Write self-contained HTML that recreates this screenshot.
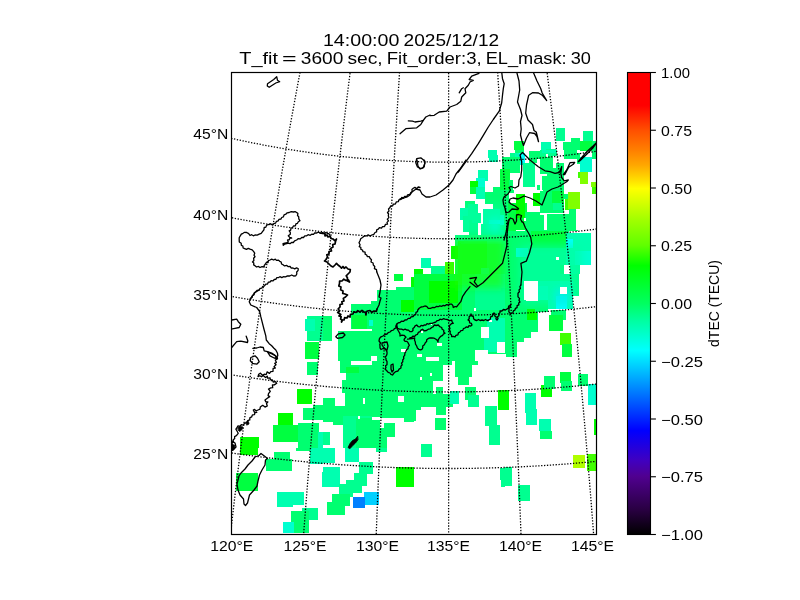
<!DOCTYPE html>
<html><head><meta charset="utf-8"><style>html,body{margin:0;padding:0;background:#fff;width:800px;height:600px;overflow:hidden}svg{display:block;will-change:transform}text{font-family:"Liberation Sans",sans-serif}</style></head>
<body><svg width="800" height="600" viewBox="0 0 800 600">
<defs><linearGradient id="cb" x1="0" y1="0" x2="0" y2="1"><stop offset="0" stop-color="#ff0000"/><stop offset="0.071" stop-color="#ff0000"/><stop offset="0.1255" stop-color="#ff5000"/><stop offset="0.169" stop-color="#ff8000"/><stop offset="0.201" stop-color="#ffa800"/><stop offset="0.234" stop-color="#ffe000"/><stop offset="0.251" stop-color="#ffff00"/><stop offset="0.32" stop-color="#a0ff00"/><stop offset="0.374" stop-color="#60ff00"/><stop offset="0.418" stop-color="#00ff00"/><stop offset="0.5" stop-color="#00ff60"/><stop offset="0.537" stop-color="#00ffa0"/><stop offset="0.602" stop-color="#00ffff"/><stop offset="0.656" stop-color="#00b0ff"/><stop offset="0.721" stop-color="#0050ff"/><stop offset="0.775" stop-color="#0000ff"/><stop offset="0.84" stop-color="#4000c0"/><stop offset="0.874" stop-color="#500090"/><stop offset="0.948" stop-color="#280040"/><stop offset="1" stop-color="#000000"/></linearGradient>
<mask id="dm" maskUnits="userSpaceOnUse" x="0" y="0" width="800" height="600"><g shape-rendering="crispEdges"><rect x="556.4" y="128.3" width="8.7" height="12.3" fill="#fff"/>
<rect x="583.3" y="131.2" width="9.4" height="10.9" fill="#fff"/>
<rect x="563.0" y="142.0" width="17.4" height="15.9" fill="#fff"/>
<rect x="570.9" y="138.4" width="9.4" height="9.4" fill="#fff"/>
<rect x="580.4" y="140.6" width="11.6" height="10.1" fill="#fff"/>
<rect x="592.0" y="140.6" width="4.1" height="18.8" fill="#fff"/>
<rect x="541.2" y="142.0" width="10.1" height="10.1" fill="#fff"/>
<rect x="545.6" y="149.3" width="10.1" height="11.6" fill="#fff"/>
<rect x="552.8" y="158.0" width="10.1" height="10.1" fill="#fff"/>
<rect x="556.4" y="162.3" width="8.0" height="10.1" fill="#fff"/>
<rect x="513.7" y="141.3" width="10.1" height="10.1" fill="#fff"/>
<rect x="528.9" y="150.7" width="10.1" height="10.1" fill="#fff"/>
<rect x="537.6" y="153.6" width="9.4" height="10.1" fill="#fff"/>
<rect x="510.8" y="152.9" width="8.7" height="10.9" fill="#fff"/>
<rect x="518.8" y="152.9" width="6.5" height="10.9" fill="#fff"/>
<rect x="505.0" y="158.0" width="8.7" height="23.2" fill="#fff"/>
<rect x="510.8" y="163.8" width="11.6" height="23.2" fill="#fff"/>
<rect x="523.8" y="160.9" width="15.9" height="26.1" fill="#fff"/>
<rect x="539.8" y="163.8" width="13.0" height="23.2" fill="#fff"/>
<rect x="554.3" y="162.3" width="11.6" height="24.6" fill="#fff"/>
<rect x="578.9" y="156.5" width="13.0" height="15.9" fill="#fff"/>
<rect x="578.2" y="171.7" width="10.1" height="12.3" fill="#fff"/>
<rect x="591.2" y="181.9" width="4.8" height="5.1" fill="#fff"/>
<rect x="487.9" y="150.0" width="9.4" height="8.0" fill="#fff"/>
<rect x="489.4" y="155.1" width="8.7" height="7.2" fill="#fff"/>
<rect x="477.8" y="169.6" width="10.1" height="11.6" fill="#fff"/>
<rect x="475.6" y="178.3" width="9.4" height="8.7" fill="#fff"/>
<rect x="469.8" y="181.2" width="8.0" height="5.8" fill="#fff"/>
<rect x="500.2" y="157.2" width="4.8" height="29.7" fill="#fff"/>
<rect x="469.8" y="187.0" width="8.0" height="6.5" fill="#fff"/>
<rect x="476.3" y="187.0" width="8.7" height="12.3" fill="#fff"/>
<rect x="485.0" y="192.1" width="8.7" height="12.3" fill="#fff"/>
<rect x="493.0" y="187.0" width="12.0" height="24.6" fill="#fff"/>
<rect x="464.7" y="200.8" width="10.1" height="9.4" fill="#fff"/>
<rect x="460.4" y="208.0" width="8.7" height="12.3" fill="#fff"/>
<rect x="468.3" y="204.4" width="9.4" height="11.6" fill="#fff"/>
<rect x="463.3" y="216.0" width="8.7" height="15.9" fill="#fff"/>
<rect x="469.1" y="220.3" width="8.7" height="15.2" fill="#fff"/>
<rect x="472.0" y="213.1" width="8.7" height="10.1" fill="#fff"/>
<rect x="482.8" y="208.7" width="22.2" height="27.5" fill="#fff"/>
<rect x="489.4" y="220.3" width="10.1" height="11.6" fill="#fff"/>
<rect x="480.7" y="224.0" width="24.3" height="15.2" fill="#fff"/>
<rect x="454.6" y="234.8" width="50.4" height="39.1" fill="#fff"/>
<rect x="451.0" y="246.4" width="6.5" height="13.0" fill="#fff"/>
<rect x="454.6" y="234.8" width="9.4" height="10.1" fill="#fff"/>
<rect x="457.5" y="240.6" width="29.0" height="33.3" fill="#fff"/>
<rect x="486.5" y="239.2" width="18.6" height="34.8" fill="#fff"/>
<rect x="480.7" y="268.2" width="8.7" height="5.8" fill="#fff"/>
<rect x="445.2" y="261.6" width="8.7" height="12.3" fill="#fff"/>
<rect x="421.2" y="258.0" width="9.4" height="10.1" fill="#fff"/>
<rect x="414.0" y="268.9" width="8.7" height="5.1" fill="#fff"/>
<rect x="430.7" y="266.0" width="14.5" height="8.0" fill="#fff"/>
<rect x="505.0" y="187.0" width="5.1" height="7.2" fill="#fff"/>
<rect x="538.3" y="187.0" width="23.2" height="7.2" fill="#fff"/>
<rect x="515.9" y="194.2" width="10.9" height="21.7" fill="#fff"/>
<rect x="532.5" y="192.8" width="11.6" height="13.0" fill="#fff"/>
<rect x="542.7" y="192.8" width="21.7" height="20.3" fill="#fff"/>
<rect x="570.2" y="192.1" width="10.1" height="12.3" fill="#fff"/>
<rect x="567.3" y="198.6" width="8.7" height="10.9" fill="#fff"/>
<rect x="592.0" y="187.0" width="4.1" height="7.2" fill="#fff"/>
<rect x="505.0" y="201.5" width="10.9" height="72.5" fill="#fff"/>
<rect x="525.3" y="213.1" width="52.2" height="17.4" fill="#fff"/>
<rect x="526.0" y="215.3" width="10.1" height="9.4" fill="#fff"/>
<rect x="505.0" y="230.5" width="63.8" height="43.5" fill="#fff"/>
<rect x="515.9" y="247.9" width="12.3" height="8.7" fill="#fff"/>
<rect x="531.1" y="230.5" width="34.8" height="17.4" fill="#fff"/>
<rect x="565.9" y="233.4" width="24.6" height="31.9" fill="#fff"/>
<rect x="565.9" y="239.2" width="7.2" height="8.7" fill="#fff"/>
<rect x="574.6" y="250.8" width="15.9" height="14.5" fill="#fff"/>
<rect x="570.2" y="265.3" width="10.1" height="8.7" fill="#fff"/>
<rect x="560.1" y="265.3" width="10.1" height="8.7" fill="#fff"/>
<rect x="505.0" y="274.0" width="18.8" height="68.1" fill="#fff"/>
<rect x="505.0" y="342.1" width="11.6" height="14.5" fill="#fff"/>
<rect x="522.4" y="274.0" width="56.5" height="7.2" fill="#fff"/>
<rect x="573.1" y="274.0" width="5.8" height="21.7" fill="#fff"/>
<rect x="534.0" y="281.2" width="39.1" height="27.5" fill="#fff"/>
<rect x="538.3" y="285.6" width="10.1" height="14.5" fill="#fff"/>
<rect x="556.4" y="295.7" width="10.9" height="13.0" fill="#fff"/>
<rect x="516.6" y="300.1" width="21.7" height="31.9" fill="#fff"/>
<rect x="523.8" y="332.0" width="7.2" height="5.8" fill="#fff"/>
<rect x="526.7" y="308.8" width="10.1" height="11.6" fill="#fff"/>
<rect x="535.4" y="300.1" width="13.0" height="11.6" fill="#fff"/>
<rect x="551.4" y="310.2" width="14.5" height="10.1" fill="#fff"/>
<rect x="549.2" y="314.6" width="13.8" height="15.9" fill="#fff"/>
<rect x="560.1" y="332.7" width="10.9" height="12.3" fill="#fff"/>
<rect x="561.5" y="343.6" width="10.9" height="13.0" fill="#fff"/>
<rect x="414.0" y="274.0" width="91.0" height="87.0" fill="#fff"/>
<rect x="414.0" y="274.0" width="47.8" height="36.2" fill="#fff"/>
<rect x="428.5" y="281.2" width="29.0" height="21.7" fill="#fff"/>
<rect x="474.9" y="274.0" width="30.1" height="36.2" fill="#fff"/>
<rect x="486.5" y="317.5" width="18.6" height="24.6" fill="#fff"/>
<rect x="483.6" y="337.8" width="14.5" height="14.5" fill="#fff"/>
<rect x="443.0" y="317.5" width="31.9" height="43.5" fill="#fff"/>
<rect x="414.0" y="310.2" width="29.0" height="50.7" fill="#fff"/>
<rect x="394.0" y="274.0" width="9.4" height="6.5" fill="#fff"/>
<rect x="411.4" y="276.9" width="2.6" height="11.6" fill="#fff"/>
<rect x="377.3" y="289.9" width="36.7" height="71.0" fill="#fff"/>
<rect x="395.5" y="287.0" width="18.6" height="2.9" fill="#fff"/>
<rect x="370.8" y="300.8" width="6.5" height="60.1" fill="#fff"/>
<rect x="350.5" y="303.7" width="20.3" height="25.4" fill="#fff"/>
<rect x="338.2" y="330.5" width="32.6" height="30.4" fill="#fff"/>
<rect x="323.0" y="316.0" width="8.7" height="24.6" fill="#fff"/>
<rect x="401.3" y="300.1" width="12.8" height="11.6" fill="#fff"/>
<rect x="369.4" y="320.4" width="3.6" height="5.8" fill="#fff"/>
<rect x="352.0" y="314.6" width="14.5" height="14.5" fill="#fff"/>
<rect x="307.4" y="316.0" width="15.7" height="24.6" fill="#fff"/>
<rect x="304.5" y="318.9" width="10.1" height="11.6" fill="#fff"/>
<rect x="305.2" y="342.1" width="13.8" height="16.7" fill="#fff"/>
<rect x="306.6" y="361.7" width="10.9" height="13.0" fill="#fff"/>
<rect x="297.2" y="388.5" width="15.2" height="15.9" fill="#fff"/>
<rect x="303.0" y="408.1" width="20.0" height="12.3" fill="#fff"/>
<rect x="313.2" y="404.5" width="9.9" height="4.3" fill="#fff"/>
<rect x="277.7" y="413.2" width="15.2" height="13.0" fill="#fff"/>
<rect x="273.3" y="424.8" width="26.8" height="16.7" fill="#fff"/>
<rect x="297.9" y="423.3" width="21.0" height="24.6" fill="#fff"/>
<rect x="317.5" y="432.0" width="5.5" height="15.9" fill="#fff"/>
<rect x="240.0" y="437.1" width="18.8" height="10.9" fill="#fff"/>
<rect x="340.4" y="361.0" width="73.6" height="11.6" fill="#fff"/>
<rect x="346.2" y="366.8" width="13.0" height="10.1" fill="#fff"/>
<rect x="346.2" y="372.6" width="67.8" height="20.3" fill="#fff"/>
<rect x="341.8" y="379.8" width="4.3" height="13.0" fill="#fff"/>
<rect x="344.7" y="392.2" width="69.3" height="25.4" fill="#fff"/>
<rect x="404.2" y="394.3" width="9.9" height="27.5" fill="#fff"/>
<rect x="323.0" y="398.0" width="11.6" height="23.9" fill="#fff"/>
<rect x="333.1" y="405.9" width="11.6" height="18.8" fill="#fff"/>
<rect x="343.3" y="416.1" width="29.0" height="31.9" fill="#fff"/>
<rect x="356.3" y="417.5" width="24.6" height="30.4" fill="#fff"/>
<rect x="381.0" y="423.3" width="13.8" height="13.8" fill="#fff"/>
<rect x="381.0" y="437.1" width="5.8" height="10.9" fill="#fff"/>
<rect x="323.0" y="432.0" width="6.5" height="13.0" fill="#fff"/>
<rect x="414.0" y="361.0" width="18.8" height="33.3" fill="#fff"/>
<rect x="432.8" y="361.0" width="10.1" height="20.3" fill="#fff"/>
<rect x="435.7" y="387.1" width="7.2" height="7.2" fill="#fff"/>
<rect x="438.6" y="361.0" width="13.0" height="4.3" fill="#fff"/>
<rect x="454.6" y="361.0" width="23.2" height="4.3" fill="#fff"/>
<rect x="455.3" y="365.3" width="16.7" height="11.6" fill="#fff"/>
<rect x="457.5" y="376.9" width="11.6" height="8.0" fill="#fff"/>
<rect x="414.0" y="394.3" width="39.1" height="13.0" fill="#fff"/>
<rect x="435.7" y="407.4" width="10.1" height="7.2" fill="#fff"/>
<rect x="414.0" y="407.4" width="7.2" height="2.9" fill="#fff"/>
<rect x="414.0" y="410.3" width="2.2" height="10.9" fill="#fff"/>
<rect x="449.5" y="391.4" width="9.4" height="12.3" fill="#fff"/>
<rect x="464.7" y="387.1" width="11.6" height="13.0" fill="#fff"/>
<rect x="467.6" y="395.1" width="11.6" height="11.6" fill="#fff"/>
<rect x="498.1" y="390.0" width="7.0" height="20.3" fill="#fff"/>
<rect x="485.0" y="405.9" width="11.6" height="19.6" fill="#fff"/>
<rect x="488.6" y="424.8" width="11.6" height="20.3" fill="#fff"/>
<rect x="435.0" y="418.2" width="10.9" height="11.6" fill="#fff"/>
<rect x="421.2" y="444.3" width="10.9" height="3.6" fill="#fff"/>
<rect x="505.0" y="390.0" width="4.3" height="19.6" fill="#fff"/>
<rect x="525.3" y="392.9" width="10.9" height="19.6" fill="#fff"/>
<rect x="526.0" y="408.8" width="10.9" height="15.9" fill="#fff"/>
<rect x="541.2" y="384.9" width="10.9" height="11.6" fill="#fff"/>
<rect x="544.1" y="376.2" width="10.9" height="12.3" fill="#fff"/>
<rect x="560.1" y="371.9" width="10.9" height="10.9" fill="#fff"/>
<rect x="560.8" y="381.3" width="10.9" height="10.1" fill="#fff"/>
<rect x="577.5" y="374.0" width="10.1" height="11.6" fill="#fff"/>
<rect x="588.3" y="384.2" width="7.7" height="20.3" fill="#fff"/>
<rect x="539.1" y="419.0" width="12.3" height="11.6" fill="#fff"/>
<rect x="539.8" y="430.6" width="12.3" height="8.0" fill="#fff"/>
<rect x="594.1" y="419.0" width="1.9" height="15.9" fill="#fff"/>
<rect x="240.0" y="448.0" width="18.1" height="6.5" fill="#fff"/>
<rect x="295.8" y="448.0" width="14.5" height="2.9" fill="#fff"/>
<rect x="310.3" y="448.0" width="12.8" height="15.9" fill="#fff"/>
<rect x="274.0" y="452.3" width="15.9" height="10.1" fill="#fff"/>
<rect x="266.1" y="458.9" width="26.1" height="12.3" fill="#fff"/>
<rect x="235.6" y="472.6" width="22.5" height="18.8" fill="#fff"/>
<rect x="276.9" y="491.5" width="15.9" height="15.9" fill="#fff"/>
<rect x="290.0" y="492.2" width="13.8" height="13.0" fill="#fff"/>
<rect x="301.6" y="508.1" width="15.9" height="12.3" fill="#fff"/>
<rect x="290.7" y="511.0" width="18.1" height="21.7" fill="#fff"/>
<rect x="282.7" y="521.9" width="11.6" height="10.9" fill="#fff"/>
<rect x="321.9" y="471.9" width="1.2" height="15.2" fill="#fff"/>
<rect x="323.0" y="448.0" width="11.6" height="14.5" fill="#fff"/>
<rect x="344.7" y="448.0" width="14.5" height="13.8" fill="#fff"/>
<rect x="375.9" y="448.0" width="10.9" height="3.6" fill="#fff"/>
<rect x="323.0" y="466.8" width="17.4" height="20.3" fill="#fff"/>
<rect x="359.2" y="461.8" width="13.8" height="12.3" fill="#fff"/>
<rect x="354.2" y="473.4" width="12.3" height="12.3" fill="#fff"/>
<rect x="346.2" y="479.9" width="15.9" height="13.0" fill="#fff"/>
<rect x="338.9" y="484.2" width="14.5" height="13.0" fill="#fff"/>
<rect x="331.7" y="494.4" width="18.1" height="11.6" fill="#fff"/>
<rect x="327.3" y="501.6" width="17.4" height="13.0" fill="#fff"/>
<rect x="396.2" y="466.8" width="17.8" height="20.3" fill="#fff"/>
<rect x="363.6" y="492.2" width="15.2" height="12.3" fill="#fff"/>
<rect x="352.7" y="496.6" width="12.3" height="10.9" fill="#fff"/>
<rect x="421.2" y="448.0" width="10.9" height="8.7" fill="#fff"/>
<rect x="500.2" y="467.6" width="4.8" height="12.3" fill="#fff"/>
<rect x="501.0" y="479.2" width="4.1" height="7.7" fill="#fff"/>
<rect x="505.0" y="466.8" width="7.0" height="19.6" fill="#fff"/>
<rect x="518.0" y="485.0" width="11.9" height="15.9" fill="#fff"/>
<rect x="573.1" y="455.0" width="11.6" height="12.6" fill="#fff"/>
<rect x="586.9" y="454.1" width="9.1" height="16.4" fill="#fff"/>
<rect x="544.1" y="214.5" width="2.9" height="15.9" fill="#000"/>
<rect x="564.4" y="265.3" width="5.8" height="8.7" fill="#000"/>
<rect x="555.7" y="257.3" width="3.2" height="2.9" fill="#000"/>
<rect x="526.0" y="197.1" width="6.5" height="15.2" fill="#000"/>
<rect x="526.7" y="187.0" width="11.6" height="5.8" fill="#000"/>
<rect x="526.0" y="280.5" width="11.6" height="20.3" fill="#000"/>
<rect x="560.1" y="287.0" width="7.2" height="7.2" fill="#000"/>
<rect x="481.4" y="326.9" width="8.0" height="10.9" fill="#000"/>
<rect x="474.9" y="350.1" width="13.0" height="10.9" fill="#000"/>
<rect x="497.3" y="342.1" width="7.7" height="10.9" fill="#000"/>
<rect x="426.3" y="357.3" width="13.0" height="3.6" fill="#000"/>
<rect x="416.9" y="353.7" width="5.1" height="2.9" fill="#000"/>
<rect x="436.5" y="342.8" width="5.1" height="2.9" fill="#000"/>
<rect x="474.1" y="308.1" width="2.2" height="2.9" fill="#000"/>
<rect x="489.4" y="319.7" width="2.9" height="2.2" fill="#000"/>
<rect x="421.2" y="331.2" width="1.7" height="2.2" fill="#000"/>
<rect x="430.7" y="324.0" width="1.4" height="1.4" fill="#000"/>
<rect x="370.8" y="355.9" width="6.5" height="5.1" fill="#000"/>
<rect x="401.3" y="349.4" width="5.8" height="2.9" fill="#000"/>
<rect x="359.2" y="329.4" width="13.0" height="2.0" fill="#000"/>
<rect x="351.3" y="361.0" width="20.3" height="3.6" fill="#000"/>
<rect x="362.9" y="398.0" width="2.2" height="5.8" fill="#000"/>
<rect x="372.3" y="416.8" width="8.0" height="2.9" fill="#000"/>
<rect x="380.2" y="418.2" width="3.6" height="9.4" fill="#000"/>
<rect x="357.8" y="416.1" width="2.2" height="2.9" fill="#000"/>
<rect x="398.4" y="395.8" width="5.8" height="5.8" fill="#000"/>
<rect x="394.7" y="417.5" width="9.4" height="4.3" fill="#000"/>
<rect x="419.8" y="376.9" width="2.2" height="2.9" fill="#000"/>
<rect x="429.9" y="373.3" width="2.2" height="2.2" fill="#000"/>
<rect x="500.0" y="150.0" width="80.0" height="80.0" fill="#000"/>
<rect x="486.0" y="354.0" width="20.0" height="8.0" fill="#000"/>
<rect x="515.3" y="150.0" width="8.7" height="2.7" fill="#fff"/>
<rect x="510.0" y="152.7" width="10.0" height="4.7" fill="#fff"/>
<rect x="515.3" y="152.7" width="4.7" height="12.0" fill="#fff"/>
<rect x="519.3" y="153.3" width="5.3" height="11.3" fill="#fff"/>
<rect x="529.0" y="151.0" width="11.0" height="7.7" fill="#fff"/>
<rect x="528.7" y="158.7" width="8.7" height="4.0" fill="#fff"/>
<rect x="502.0" y="157.0" width="18.0" height="15.7" fill="#fff"/>
<rect x="500.0" y="168.7" width="10.0" height="21.3" fill="#fff"/>
<rect x="523.0" y="163.3" width="12.0" height="23.3" fill="#fff"/>
<rect x="508.7" y="180.0" width="4.7" height="10.0" fill="#fff"/>
<rect x="537.0" y="184.7" width="3.0" height="5.3" fill="#fff"/>
<rect x="540.0" y="150.0" width="16.7" height="6.0" fill="#fff"/>
<rect x="542.0" y="150.0" width="14.0" height="3.3" fill="#fff"/>
<rect x="540.0" y="156.0" width="13.0" height="12.0" fill="#fff"/>
<rect x="555.7" y="162.7" width="8.3" height="5.3" fill="#fff"/>
<rect x="546.7" y="168.0" width="17.3" height="4.7" fill="#fff"/>
<rect x="540.0" y="168.0" width="6.7" height="6.0" fill="#fff"/>
<rect x="546.7" y="172.7" width="17.3" height="17.3" fill="#fff"/>
<rect x="542.0" y="176.0" width="4.7" height="14.0" fill="#fff"/>
<rect x="564.0" y="150.0" width="12.7" height="8.7" fill="#fff"/>
<rect x="576.7" y="152.7" width="3.3" height="11.3" fill="#fff"/>
<rect x="578.0" y="172.0" width="2.0" height="6.0" fill="#fff"/>
<rect x="546.0" y="154.0" width="2.0" height="2.7" fill="#000"/>
<rect x="556.7" y="150.0" width="7.3" height="4.0" fill="#000"/>
<rect x="500.0" y="190.0" width="8.7" height="40.0" fill="#fff"/>
<rect x="500.0" y="215.3" width="4.0" height="9.3" fill="#fff"/>
<rect x="508.7" y="190.0" width="5.3" height="3.0" fill="#fff"/>
<rect x="508.0" y="203.3" width="18.7" height="26.7" fill="#fff"/>
<rect x="516.0" y="194.0" width="9.3" height="24.0" fill="#fff"/>
<rect x="525.3" y="212.0" width="14.7" height="18.0" fill="#fff"/>
<rect x="532.7" y="193.3" width="7.3" height="12.7" fill="#fff"/>
<rect x="524.0" y="218.0" width="2.0" height="2.7" fill="#000"/>
<rect x="540.0" y="190.0" width="24.0" height="22.7" fill="#fff"/>
<rect x="552.0" y="191.3" width="12.0" height="12.0" fill="#fff"/>
<rect x="553.3" y="203.3" width="8.7" height="6.7" fill="#fff"/>
<rect x="564.0" y="194.0" width="4.0" height="4.7" fill="#fff"/>
<rect x="565.3" y="198.7" width="4.7" height="11.3" fill="#fff"/>
<rect x="568.0" y="192.0" width="12.0" height="17.3" fill="#fff"/>
<rect x="540.0" y="215.3" width="4.0" height="14.7" fill="#fff"/>
<rect x="546.7" y="214.0" width="29.3" height="16.0" fill="#fff"/>
<rect x="569.3" y="209.3" width="6.7" height="20.7" fill="#fff"/>
<rect x="540.0" y="190.0" width="2.7" height="1.3" fill="#000"/></g></mask>
<filter id="bl" x="-50%" y="-50%" width="200%" height="200%"><feGaussianBlur stdDeviation="4"/></filter>
<clipPath id="ax"><rect x="231.5" y="72.5" width="365.0" height="462.0"/></clipPath></defs>
<rect width="800" height="600" fill="#fff"/>
<g clip-path="url(#ax)">
<g id="data" shape-rendering="crispEdges"><rect x="556.4" y="128.3" width="8.7" height="12.3" fill="#00ff90"/>
<rect x="583.3" y="131.2" width="9.4" height="10.9" fill="#00ff90"/>
<rect x="563.0" y="142.0" width="17.4" height="15.9" fill="#00ff70"/>
<rect x="570.9" y="138.4" width="9.4" height="9.4" fill="#00ff70"/>
<rect x="580.4" y="140.6" width="11.6" height="10.1" fill="#00ff40"/>
<rect x="592.0" y="140.6" width="4.1" height="18.8" fill="#00ff70"/>
<rect x="541.2" y="142.0" width="10.1" height="10.1" fill="#00ffb0"/>
<rect x="545.6" y="149.3" width="10.1" height="11.6" fill="#00ff90"/>
<rect x="552.8" y="158.0" width="10.1" height="10.1" fill="#00ff70"/>
<rect x="556.4" y="162.3" width="8.0" height="10.1" fill="#00ff70"/>
<rect x="513.7" y="141.3" width="10.1" height="10.1" fill="#00ff40"/>
<rect x="528.9" y="150.7" width="10.1" height="10.1" fill="#00ff70"/>
<rect x="537.6" y="153.6" width="9.4" height="10.1" fill="#00ff70"/>
<rect x="510.8" y="152.9" width="8.7" height="10.9" fill="#00ff70"/>
<rect x="518.8" y="152.9" width="6.5" height="10.9" fill="#00ffff"/>
<rect x="505.0" y="158.0" width="8.7" height="23.2" fill="#00ff90"/>
<rect x="510.8" y="163.8" width="11.6" height="23.2" fill="#00ff70"/>
<rect x="523.8" y="160.9" width="15.9" height="26.1" fill="#00ff90"/>
<rect x="539.8" y="163.8" width="13.0" height="23.2" fill="#00ff70"/>
<rect x="554.3" y="162.3" width="11.6" height="24.6" fill="#00ff40"/>
<rect x="578.9" y="156.5" width="13.0" height="15.9" fill="#00ffd0"/>
<rect x="578.2" y="171.7" width="10.1" height="12.3" fill="#80ff00"/>
<rect x="591.2" y="181.9" width="4.8" height="5.1" fill="#80ff00"/>
<rect x="487.9" y="150.0" width="9.4" height="8.0" fill="#00ffb0"/>
<rect x="489.4" y="155.1" width="8.7" height="7.2" fill="#00ffb0"/>
<rect x="477.8" y="169.6" width="10.1" height="11.6" fill="#00ffb0"/>
<rect x="475.6" y="178.3" width="9.4" height="8.7" fill="#00ffd0"/>
<rect x="469.8" y="181.2" width="8.0" height="5.8" fill="#00ff00"/>
<rect x="500.2" y="157.2" width="4.8" height="29.7" fill="#00ff40"/>
<rect x="469.8" y="187.0" width="8.0" height="6.5" fill="#00ff40"/>
<rect x="476.3" y="187.0" width="8.7" height="12.3" fill="#00ffb0"/>
<rect x="485.0" y="192.1" width="8.7" height="12.3" fill="#00ff70"/>
<rect x="493.0" y="187.0" width="12.0" height="24.6" fill="#00ff70"/>
<rect x="464.7" y="200.8" width="10.1" height="9.4" fill="#00ff70"/>
<rect x="460.4" y="208.0" width="8.7" height="12.3" fill="#00ffb0"/>
<rect x="468.3" y="204.4" width="9.4" height="11.6" fill="#00ff90"/>
<rect x="463.3" y="216.0" width="8.7" height="15.9" fill="#00ff90"/>
<rect x="469.1" y="220.3" width="8.7" height="15.2" fill="#00ff70"/>
<rect x="472.0" y="213.1" width="8.7" height="10.1" fill="#00ff90"/>
<rect x="482.8" y="208.7" width="22.2" height="27.5" fill="#00ffb0"/>
<rect x="489.4" y="220.3" width="10.1" height="11.6" fill="#00ffff"/>
<rect x="480.7" y="224.0" width="24.3" height="15.2" fill="#00ff90"/>
<rect x="454.6" y="234.8" width="50.4" height="39.1" fill="#00ff70"/>
<rect x="451.0" y="246.4" width="6.5" height="13.0" fill="#00ff00"/>
<rect x="454.6" y="234.8" width="9.4" height="10.1" fill="#00ff90"/>
<rect x="457.5" y="240.6" width="29.0" height="33.3" fill="#00ff40"/>
<rect x="486.5" y="239.2" width="18.6" height="34.8" fill="#00ff70"/>
<rect x="480.7" y="268.2" width="8.7" height="5.8" fill="#00ffb0"/>
<rect x="445.2" y="261.6" width="8.7" height="12.3" fill="#40ff00"/>
<rect x="421.2" y="258.0" width="9.4" height="10.1" fill="#00ffb0"/>
<rect x="414.0" y="268.9" width="8.7" height="5.1" fill="#00ff00"/>
<rect x="430.7" y="266.0" width="14.5" height="8.0" fill="#00ff90"/>
<rect x="505.0" y="187.0" width="5.1" height="7.2" fill="#00ff70"/>
<rect x="538.3" y="187.0" width="23.2" height="7.2" fill="#00ff70"/>
<rect x="515.9" y="194.2" width="10.9" height="21.7" fill="#00ff70"/>
<rect x="532.5" y="192.8" width="11.6" height="13.0" fill="#00ff70"/>
<rect x="542.7" y="192.8" width="21.7" height="20.3" fill="#00ff70"/>
<rect x="570.2" y="192.1" width="10.1" height="12.3" fill="#80ff00"/>
<rect x="567.3" y="198.6" width="8.7" height="10.9" fill="#40ff00"/>
<rect x="592.0" y="187.0" width="4.1" height="7.2" fill="#40ff00"/>
<rect x="505.0" y="201.5" width="10.9" height="72.5" fill="#00ff40"/>
<rect x="525.3" y="213.1" width="52.2" height="17.4" fill="#00ff70"/>
<rect x="526.0" y="215.3" width="10.1" height="9.4" fill="#00ffb0"/>
<rect x="505.0" y="230.5" width="63.8" height="43.5" fill="#00ff70"/>
<rect x="515.9" y="247.9" width="12.3" height="8.7" fill="#00ffd0"/>
<rect x="531.1" y="230.5" width="34.8" height="17.4" fill="#00ff40"/>
<rect x="565.9" y="233.4" width="24.6" height="31.9" fill="#00ffb0"/>
<rect x="565.9" y="239.2" width="7.2" height="8.7" fill="#00ffff"/>
<rect x="574.6" y="250.8" width="15.9" height="14.5" fill="#00ffd0"/>
<rect x="570.2" y="265.3" width="10.1" height="8.7" fill="#00ff90"/>
<rect x="560.1" y="265.3" width="10.1" height="8.7" fill="#00ff40"/>
<rect x="505.0" y="274.0" width="18.8" height="68.1" fill="#00ff70"/>
<rect x="505.0" y="342.1" width="11.6" height="14.5" fill="#00ff70"/>
<rect x="522.4" y="274.0" width="56.5" height="7.2" fill="#00ff70"/>
<rect x="573.1" y="274.0" width="5.8" height="21.7" fill="#00ff70"/>
<rect x="534.0" y="281.2" width="39.1" height="27.5" fill="#00ffb0"/>
<rect x="538.3" y="285.6" width="10.1" height="14.5" fill="#00ffd0"/>
<rect x="556.4" y="295.7" width="10.9" height="13.0" fill="#00ffff"/>
<rect x="516.6" y="300.1" width="21.7" height="31.9" fill="#00ff70"/>
<rect x="523.8" y="332.0" width="7.2" height="5.8" fill="#00ff70"/>
<rect x="526.7" y="308.8" width="10.1" height="11.6" fill="#00ff00"/>
<rect x="535.4" y="300.1" width="13.0" height="11.6" fill="#00ff70"/>
<rect x="551.4" y="310.2" width="14.5" height="10.1" fill="#00ff70"/>
<rect x="549.2" y="314.6" width="13.8" height="15.9" fill="#00ff40"/>
<rect x="560.1" y="332.7" width="10.9" height="12.3" fill="#40ff00"/>
<rect x="561.5" y="343.6" width="10.9" height="13.0" fill="#00ff40"/>
<rect x="414.0" y="274.0" width="91.0" height="87.0" fill="#00ff70"/>
<rect x="414.0" y="274.0" width="47.8" height="36.2" fill="#00ff40"/>
<rect x="428.5" y="281.2" width="29.0" height="21.7" fill="#00ff00"/>
<rect x="474.9" y="274.0" width="30.1" height="36.2" fill="#00ff90"/>
<rect x="486.5" y="317.5" width="18.6" height="24.6" fill="#00ffb0"/>
<rect x="483.6" y="337.8" width="14.5" height="14.5" fill="#00ffb0"/>
<rect x="443.0" y="317.5" width="31.9" height="43.5" fill="#00ff70"/>
<rect x="414.0" y="310.2" width="29.0" height="50.7" fill="#00ff70"/>
<rect x="394.0" y="274.0" width="9.4" height="6.5" fill="#00ff40"/>
<rect x="411.4" y="276.9" width="2.6" height="11.6" fill="#00ff00"/>
<rect x="377.3" y="289.9" width="36.7" height="71.0" fill="#00ff70"/>
<rect x="395.5" y="287.0" width="18.6" height="2.9" fill="#00ff70"/>
<rect x="370.8" y="300.8" width="6.5" height="60.1" fill="#00ff70"/>
<rect x="350.5" y="303.7" width="20.3" height="25.4" fill="#00ff70"/>
<rect x="338.2" y="330.5" width="32.6" height="30.4" fill="#00ff70"/>
<rect x="323.0" y="316.0" width="8.7" height="24.6" fill="#00ff70"/>
<rect x="401.3" y="300.1" width="12.8" height="11.6" fill="#00ff00"/>
<rect x="369.4" y="320.4" width="3.6" height="5.8" fill="#00ffd0"/>
<rect x="352.0" y="314.6" width="14.5" height="14.5" fill="#00ff40"/>
<rect x="307.4" y="316.0" width="15.7" height="24.6" fill="#00ff90"/>
<rect x="304.5" y="318.9" width="10.1" height="11.6" fill="#00ffb0"/>
<rect x="305.2" y="342.1" width="13.8" height="16.7" fill="#00ff40"/>
<rect x="306.6" y="361.7" width="10.9" height="13.0" fill="#00ff70"/>
<rect x="297.2" y="388.5" width="15.2" height="15.9" fill="#00ff00"/>
<rect x="303.0" y="408.1" width="20.0" height="12.3" fill="#00ff70"/>
<rect x="313.2" y="404.5" width="9.9" height="4.3" fill="#00ff70"/>
<rect x="277.7" y="413.2" width="15.2" height="13.0" fill="#00ff00"/>
<rect x="273.3" y="424.8" width="26.8" height="16.7" fill="#00ff40"/>
<rect x="297.9" y="423.3" width="21.0" height="24.6" fill="#00ff70"/>
<rect x="317.5" y="432.0" width="5.5" height="15.9" fill="#00ffb0"/>
<rect x="240.0" y="437.1" width="18.8" height="10.9" fill="#00ff00"/>
<rect x="340.4" y="361.0" width="73.6" height="11.6" fill="#00ff70"/>
<rect x="346.2" y="366.8" width="13.0" height="10.1" fill="#00ff40"/>
<rect x="346.2" y="372.6" width="67.8" height="20.3" fill="#00ff70"/>
<rect x="341.8" y="379.8" width="4.3" height="13.0" fill="#00ff70"/>
<rect x="344.7" y="392.2" width="69.3" height="25.4" fill="#00ff70"/>
<rect x="404.2" y="394.3" width="9.9" height="27.5" fill="#00ff70"/>
<rect x="323.0" y="398.0" width="11.6" height="23.9" fill="#00ff70"/>
<rect x="333.1" y="405.9" width="11.6" height="18.8" fill="#00ff70"/>
<rect x="343.3" y="416.1" width="29.0" height="31.9" fill="#00ff90"/>
<rect x="356.3" y="417.5" width="24.6" height="30.4" fill="#00ff70"/>
<rect x="381.0" y="423.3" width="13.8" height="13.8" fill="#00ff70"/>
<rect x="381.0" y="437.1" width="5.8" height="10.9" fill="#00ff70"/>
<rect x="323.0" y="432.0" width="6.5" height="13.0" fill="#00ff90"/>
<rect x="414.0" y="361.0" width="18.8" height="33.3" fill="#00ff70"/>
<rect x="432.8" y="361.0" width="10.1" height="20.3" fill="#00ff70"/>
<rect x="435.7" y="387.1" width="7.2" height="7.2" fill="#00ff70"/>
<rect x="438.6" y="361.0" width="13.0" height="4.3" fill="#00ff70"/>
<rect x="454.6" y="361.0" width="23.2" height="4.3" fill="#00ff70"/>
<rect x="455.3" y="365.3" width="16.7" height="11.6" fill="#00ff70"/>
<rect x="457.5" y="376.9" width="11.6" height="8.0" fill="#00ff70"/>
<rect x="414.0" y="394.3" width="39.1" height="13.0" fill="#00ff70"/>
<rect x="435.7" y="407.4" width="10.1" height="7.2" fill="#00ff70"/>
<rect x="414.0" y="407.4" width="7.2" height="2.9" fill="#00ff70"/>
<rect x="414.0" y="410.3" width="2.2" height="10.9" fill="#00ff70"/>
<rect x="449.5" y="391.4" width="9.4" height="12.3" fill="#00ffb0"/>
<rect x="464.7" y="387.1" width="11.6" height="13.0" fill="#00ff70"/>
<rect x="467.6" y="395.1" width="11.6" height="11.6" fill="#00ff90"/>
<rect x="498.1" y="390.0" width="7.0" height="20.3" fill="#00ff00"/>
<rect x="485.0" y="405.9" width="11.6" height="19.6" fill="#00ff90"/>
<rect x="488.6" y="424.8" width="11.6" height="20.3" fill="#00ff90"/>
<rect x="435.0" y="418.2" width="10.9" height="11.6" fill="#00ff70"/>
<rect x="421.2" y="444.3" width="10.9" height="3.6" fill="#00ff90"/>
<rect x="505.0" y="390.0" width="4.3" height="19.6" fill="#00ff00"/>
<rect x="525.3" y="392.9" width="10.9" height="19.6" fill="#00ffb0"/>
<rect x="526.0" y="408.8" width="10.9" height="15.9" fill="#00ffb0"/>
<rect x="541.2" y="384.9" width="10.9" height="11.6" fill="#00ff00"/>
<rect x="544.1" y="376.2" width="10.9" height="12.3" fill="#00ff70"/>
<rect x="560.1" y="371.9" width="10.9" height="10.9" fill="#00ff40"/>
<rect x="560.8" y="381.3" width="10.9" height="10.1" fill="#00ff70"/>
<rect x="577.5" y="374.0" width="10.1" height="11.6" fill="#00ff70"/>
<rect x="588.3" y="384.2" width="7.7" height="20.3" fill="#00ffd0"/>
<rect x="539.1" y="419.0" width="12.3" height="11.6" fill="#00ffb0"/>
<rect x="539.8" y="430.6" width="12.3" height="8.0" fill="#00ff70"/>
<rect x="594.1" y="419.0" width="1.9" height="15.9" fill="#00ff00"/>
<rect x="240.0" y="448.0" width="18.1" height="6.5" fill="#00ff00"/>
<rect x="295.8" y="448.0" width="14.5" height="2.9" fill="#00ff70"/>
<rect x="310.3" y="448.0" width="12.8" height="15.9" fill="#00ffb0"/>
<rect x="274.0" y="452.3" width="15.9" height="10.1" fill="#00ff70"/>
<rect x="266.1" y="458.9" width="26.1" height="12.3" fill="#00ff70"/>
<rect x="235.6" y="472.6" width="22.5" height="18.8" fill="#00ff40"/>
<rect x="276.9" y="491.5" width="15.9" height="15.9" fill="#00ffb0"/>
<rect x="290.0" y="492.2" width="13.8" height="13.0" fill="#00ffb0"/>
<rect x="301.6" y="508.1" width="15.9" height="12.3" fill="#00ff90"/>
<rect x="290.7" y="511.0" width="18.1" height="21.7" fill="#00ff70"/>
<rect x="282.7" y="521.9" width="11.6" height="10.9" fill="#00ffd0"/>
<rect x="321.9" y="471.9" width="1.2" height="15.2" fill="#00ffb0"/>
<rect x="323.0" y="448.0" width="11.6" height="14.5" fill="#00ffb0"/>
<rect x="344.7" y="448.0" width="14.5" height="13.8" fill="#00ffb0"/>
<rect x="375.9" y="448.0" width="10.9" height="3.6" fill="#00ff90"/>
<rect x="323.0" y="466.8" width="17.4" height="20.3" fill="#00ffb0"/>
<rect x="359.2" y="461.8" width="13.8" height="12.3" fill="#00ff90"/>
<rect x="354.2" y="473.4" width="12.3" height="12.3" fill="#00ff90"/>
<rect x="346.2" y="479.9" width="15.9" height="13.0" fill="#00ff90"/>
<rect x="338.9" y="484.2" width="14.5" height="13.0" fill="#00ff90"/>
<rect x="331.7" y="494.4" width="18.1" height="11.6" fill="#00ff70"/>
<rect x="327.3" y="501.6" width="17.4" height="13.0" fill="#00ff70"/>
<rect x="396.2" y="466.8" width="17.8" height="20.3" fill="#00ff00"/>
<rect x="363.6" y="492.2" width="15.2" height="12.3" fill="#00d0ff"/>
<rect x="352.7" y="496.6" width="12.3" height="10.9" fill="#0080ff"/>
<rect x="421.2" y="448.0" width="10.9" height="8.7" fill="#00ff90"/>
<rect x="500.2" y="467.6" width="4.8" height="12.3" fill="#00ff90"/>
<rect x="501.0" y="479.2" width="4.1" height="7.7" fill="#00ff90"/>
<rect x="505.0" y="466.8" width="7.0" height="19.6" fill="#00ff90"/>
<rect x="518.0" y="485.0" width="11.9" height="15.9" fill="#00ff90"/>
<rect x="573.1" y="455.0" width="11.6" height="12.6" fill="#b0ff00"/>
<rect x="586.9" y="454.1" width="9.1" height="16.4" fill="#40ff00"/>
<rect x="544.1" y="214.5" width="2.9" height="15.9" fill="#ffffff"/>
<rect x="564.4" y="265.3" width="5.8" height="8.7" fill="#ffffff"/>
<rect x="555.7" y="257.3" width="3.2" height="2.9" fill="#ffffff"/>
<rect x="526.0" y="197.1" width="6.5" height="15.2" fill="#ffffff"/>
<rect x="526.7" y="187.0" width="11.6" height="5.8" fill="#ffffff"/>
<rect x="526.0" y="280.5" width="11.6" height="20.3" fill="#ffffff"/>
<rect x="560.1" y="287.0" width="7.2" height="7.2" fill="#ffffff"/>
<rect x="481.4" y="326.9" width="8.0" height="10.9" fill="#ffffff"/>
<rect x="474.9" y="350.1" width="13.0" height="10.9" fill="#ffffff"/>
<rect x="497.3" y="342.1" width="7.7" height="10.9" fill="#ffffff"/>
<rect x="426.3" y="357.3" width="13.0" height="3.6" fill="#ffffff"/>
<rect x="416.9" y="353.7" width="5.1" height="2.9" fill="#ffffff"/>
<rect x="436.5" y="342.8" width="5.1" height="2.9" fill="#ffffff"/>
<rect x="474.1" y="308.1" width="2.2" height="2.9" fill="#ffffff"/>
<rect x="489.4" y="319.7" width="2.9" height="2.2" fill="#ffffff"/>
<rect x="421.2" y="331.2" width="1.7" height="2.2" fill="#ffffff"/>
<rect x="430.7" y="324.0" width="1.4" height="1.4" fill="#ffffff"/>
<rect x="370.8" y="355.9" width="6.5" height="5.1" fill="#ffffff"/>
<rect x="401.3" y="349.4" width="5.8" height="2.9" fill="#ffffff"/>
<rect x="359.2" y="329.4" width="13.0" height="2.0" fill="#ffffff"/>
<rect x="351.3" y="361.0" width="20.3" height="3.6" fill="#ffffff"/>
<rect x="362.9" y="398.0" width="2.2" height="5.8" fill="#ffffff"/>
<rect x="372.3" y="416.8" width="8.0" height="2.9" fill="#ffffff"/>
<rect x="380.2" y="418.2" width="3.6" height="9.4" fill="#ffffff"/>
<rect x="357.8" y="416.1" width="2.2" height="2.9" fill="#ffffff"/>
<rect x="398.4" y="395.8" width="5.8" height="5.8" fill="#ffffff"/>
<rect x="394.7" y="417.5" width="9.4" height="4.3" fill="#ffffff"/>
<rect x="419.8" y="376.9" width="2.2" height="2.9" fill="#ffffff"/>
<rect x="429.9" y="373.3" width="2.2" height="2.2" fill="#ffffff"/>
<rect x="500.0" y="150.0" width="80.0" height="80.0" fill="#ffffff"/>
<rect x="486.0" y="354.0" width="20.0" height="8.0" fill="#ffffff"/>
<rect x="515.3" y="150.0" width="8.7" height="2.7" fill="#00ff70"/>
<rect x="510.0" y="152.7" width="10.0" height="4.7" fill="#00ff90"/>
<rect x="515.3" y="152.7" width="4.7" height="12.0" fill="#00ffb0"/>
<rect x="519.3" y="153.3" width="5.3" height="11.3" fill="#00ffff"/>
<rect x="529.0" y="151.0" width="11.0" height="7.7" fill="#00ff70"/>
<rect x="528.7" y="158.7" width="8.7" height="4.0" fill="#00ff70"/>
<rect x="502.0" y="157.0" width="18.0" height="15.7" fill="#00ff70"/>
<rect x="500.0" y="168.7" width="10.0" height="21.3" fill="#00ff40"/>
<rect x="523.0" y="163.3" width="12.0" height="23.3" fill="#00ff90"/>
<rect x="508.7" y="180.0" width="4.7" height="10.0" fill="#00ff70"/>
<rect x="537.0" y="184.7" width="3.0" height="5.3" fill="#00ff70"/>
<rect x="540.0" y="150.0" width="16.7" height="6.0" fill="#00ff90"/>
<rect x="542.0" y="150.0" width="14.0" height="3.3" fill="#00ffb0"/>
<rect x="540.0" y="156.0" width="13.0" height="12.0" fill="#00ff70"/>
<rect x="555.7" y="162.7" width="8.3" height="5.3" fill="#00ff70"/>
<rect x="546.7" y="168.0" width="17.3" height="4.7" fill="#00ff70"/>
<rect x="540.0" y="168.0" width="6.7" height="6.0" fill="#00ff70"/>
<rect x="546.7" y="172.7" width="17.3" height="17.3" fill="#00ff70"/>
<rect x="542.0" y="176.0" width="4.7" height="14.0" fill="#00ff70"/>
<rect x="564.0" y="150.0" width="12.7" height="8.7" fill="#00ff70"/>
<rect x="576.7" y="152.7" width="3.3" height="11.3" fill="#00ff70"/>
<rect x="578.0" y="172.0" width="2.0" height="6.0" fill="#40ff00"/>
<rect x="546.0" y="154.0" width="2.0" height="2.7" fill="#ffffff"/>
<rect x="556.7" y="150.0" width="7.3" height="4.0" fill="#ffffff"/>
<rect x="500.0" y="190.0" width="8.7" height="40.0" fill="#00ff70"/>
<rect x="500.0" y="215.3" width="4.0" height="9.3" fill="#00ffd0"/>
<rect x="508.7" y="190.0" width="5.3" height="3.0" fill="#00ff70"/>
<rect x="508.0" y="203.3" width="18.7" height="26.7" fill="#00ff40"/>
<rect x="516.0" y="194.0" width="9.3" height="24.0" fill="#00ff00"/>
<rect x="525.3" y="212.0" width="14.7" height="18.0" fill="#00ff70"/>
<rect x="532.7" y="193.3" width="7.3" height="12.7" fill="#00ff00"/>
<rect x="524.0" y="218.0" width="2.0" height="2.7" fill="#ffffff"/>
<rect x="540.0" y="190.0" width="24.0" height="22.7" fill="#00ff70"/>
<rect x="552.0" y="191.3" width="12.0" height="12.0" fill="#00ff40"/>
<rect x="553.3" y="203.3" width="8.7" height="6.7" fill="#00ff90"/>
<rect x="564.0" y="194.0" width="4.0" height="4.7" fill="#00ff70"/>
<rect x="565.3" y="198.7" width="4.7" height="11.3" fill="#40ff00"/>
<rect x="568.0" y="192.0" width="12.0" height="17.3" fill="#80ff00"/>
<rect x="540.0" y="215.3" width="4.0" height="14.7" fill="#00ff70"/>
<rect x="546.7" y="214.0" width="29.3" height="16.0" fill="#00ff70"/>
<rect x="569.3" y="209.3" width="6.7" height="20.7" fill="#00ff70"/>
<rect x="540.0" y="190.0" width="2.7" height="1.3" fill="#ffffff"/></g>
<g mask="url(#dm)"><g filter="url(#bl)"><rect x="452" y="238" width="52" height="50" fill="#20ff00" opacity="0.6"/>
<rect x="520" y="245" width="62" height="60" fill="#00ffa8" opacity="0.7"/>
<rect x="556" y="290" width="12" height="14" fill="#00e8ff" opacity="0.8"/>
<rect x="462" y="205" width="42" height="30" fill="#00ffa0" opacity="0.7"/>
<rect x="490" y="218" width="10" height="14" fill="#00ffd8" opacity="0.8"/>
</g></g>
<g id="coast" fill="none" stroke="#000" stroke-width="1.3" stroke-linejoin="round" stroke-linecap="round"><path d="M267.5,83.7 L273.7,79.5 L276.7,76.7 L277.5,80.3 L279.7,81.7 L275.8,83.0 L269.2,87.3 L267.3,86.0 Z"/>
<path d="M330.0,235.3 L329.1,233.9 L327.5,233.3 L325.9,232.5 L324.1,233.4 L322.5,232.5 L320.6,233.3 L318.6,232.2 L316.7,233.0 L314.9,232.8 L313.5,234.4 L311.7,234.2 L310.2,235.3 L308.1,234.7 L306.7,235.8 L304.8,235.8 L303.5,237.5 L301.7,237.5 L300.3,238.9 L298.1,238.6 L296.7,240.0 L294.6,240.8 L293.3,242.5 L291.5,242.5 L290.0,243.7 L288.3,243.1 L286.7,243.7 L284.7,244.0 L283.3,245.3 L283.0,243.7 L285.8,243.0 L288.3,242.0 L287.5,240.0 L289.1,239.9 L290.0,238.1 L291.7,238.0 L289.7,237.4 L288.3,235.8 L290.3,234.2 L290.3,232.3 L289.2,230.8 L290.7,230.1 L291.0,228.2 L292.5,227.5 L293.4,226.0 L295.4,225.9 L295.9,223.9 L297.5,223.3 L298.3,221.7 L300.0,220.8 L298.8,218.9 L298.7,216.7 L297.5,215.5 L297.9,213.6 L296.7,212.5 L295.1,211.7 L293.3,212.0 L291.2,211.7 L289.2,212.5 L287.2,212.8 L285.8,214.2 L284.1,214.8 L283.4,216.9 L281.7,217.5 L281.0,219.0 L279.0,219.3 L278.3,220.8 L276.5,221.3 L275.5,223.2 L273.7,223.7 L272.0,224.6 L270.0,223.7 L268.3,224.7 L266.6,225.1 L265.9,227.1 L264.2,227.5 L263.9,229.8 L262.5,231.7 L261.2,233.4 L259.2,234.2 L257.2,235.2 L255.0,235.0 L253.4,235.8 L251.6,234.7 L250.0,235.5 L248.7,233.6 L246.7,232.5 L244.7,232.3 L243.0,233.3 L241.3,234.1 L240.3,235.8 L239.2,237.8 L239.2,240.0 L239.3,242.0 L241.2,243.3 L241.3,245.3 L242.9,246.0 L243.1,248.0 L244.7,248.7 L246.4,249.4 L248.3,248.4 L250.0,249.2 L252.2,249.9 L253.7,251.7 L254.7,253.2 L254.0,255.2 L255.0,256.7 L253.6,258.2 L253.9,260.5 L252.5,262.0 L253.8,263.0 L253.7,264.9 L255.0,265.8 L256.5,267.0 L258.5,266.4 L260.0,267.5 L262.0,266.7 L264.2,267.0 L264.2,265.4 L265.3,264.2 L266.1,262.7 L268.1,262.5 L268.4,260.6 L270.0,260.0 L271.7,259.1 L273.6,260.0 L275.3,259.2 L276.5,260.4 L278.5,260.1 L279.7,261.3 L281.2,262.0 L281.5,264.0 L283.0,264.7 L284.6,265.9 L286.8,265.4 L288.3,266.7 L290.1,266.5 L291.3,268.1 L293.0,268.0 L294.7,268.8 L296.6,267.8 L298.3,268.7 L298.0,270.6 L296.7,272.0 L296.8,274.0 L295.8,275.8 L293.6,276.0 L291.7,275.0 L289.7,276.0 L287.5,275.8 L285.5,276.8 L283.3,276.7 L281.8,277.6 L279.9,276.7 L278.3,277.7 L276.7,277.7 L275.8,279.4 L274.2,279.5 L273.1,280.8 L271.1,280.7 L270.0,282.0 L268.3,282.2 L267.5,284.0 L265.8,284.2 L264.5,285.9 L262.5,286.7 L261.8,288.2 L259.9,288.5 L259.2,290.0 L257.2,290.3 L255.8,291.7 L254.3,292.7 L254.1,294.8 L252.5,295.8 L252.2,297.5 L250.3,298.3 L250.0,300.0"/>
<path d="M259.2,290.0 L255.0,292.5 L251.7,296.7 L249.2,301.7 L250.8,305.0 L256.7,307.5 L259.7,311.7 L260.8,316.7 L262.5,323.3 L264.2,330.0 L265.8,335.8 L266.3,340.0 L269.2,343.7 L271.7,345.8 L273.7,348.0 L275.8,350.0 L277.5,353.3 L277.8,355.8 L275.8,357.5"/>
<path d="M252.8,348.3 L256.7,348.0 L260.0,347.0 L263.3,347.5 L264.2,350.8 L267.5,351.7 L271.7,353.0 L275.0,355.3 L276.7,357.5"/>
<path d="M267.5,352.0 L272.5,354.2 L277.0,356.7 L277.5,358.7 L274.2,358.0 L270.0,355.8 Z"/>
<path d="M277.0,359.2 L275.3,360.0 L276.4,362.5 L274.7,363.3 L276.0,364.7 L274.0,366.6 L275.3,368.0 L273.1,368.4 L273.0,371.3 L270.8,371.7 L269.5,373.4 L267.1,371.9 L266.2,374.6 L264.2,374.2 L262.4,375.3 L260.5,373.1 L258.7,374.2 L258.0,376.7 L259.8,375.7 L261.5,376.8 L263.3,375.5 L265.5,377.5 L267.3,376.2 L267.5,378.1 L270.1,377.8 L270.3,379.7 L272.4,380.0 L273.2,382.0 L275.3,381.6 L276.7,383.2 L274.3,384.9 L272.4,385.0 L272.7,387.7 L270.8,387.8 L268.5,389.0 L270.3,391.3 L268.5,393.7 L268.1,395.6 L269.7,396.6 L267.3,398.3 L265.0,400.1 L265.9,401.9 L267.9,401.8 L266.5,403.7 L267.3,405.9 L265.0,407.1 L262.7,405.3 L260.3,407.1 L260.0,409.2 L258.0,410.0 L256.1,410.8 L254.5,409.4 L253.3,410.0 L254.4,412.1 L256.8,412.3 L254.9,412.7 L254.5,414.7 L252.4,414.9 L251.6,416.9 L249.8,417.8 L249.8,419.9 L247.6,420.6 L246.9,422.8 L244.5,423.1 L243.4,425.2 L241.3,424.7 L239.9,426.3 L238.0,425.9 L237.0,427.5 L235.9,429.2 L237.0,431.0 L238.2,433.3 L236.4,435.7 L234.6,436.6 L234.7,438.6 L233.1,440.0 L233.5,442.1 L231.9,443.1 L232.3,445.0 L231.0,447.0"/>
<path d="M261.0,453.5 L263.0,455.0 L265.0,456.5 L267.5,458.5 L265.5,460.0 L265.0,465.0 L262.0,470.0 L259.5,475.0 L258.0,481.0 L257.0,486.0 L254.0,490.0 L249.5,495.0 L247.5,503.0 L245.5,505.5 L244.0,504.0 L243.5,499.0 L240.0,495.0 L238.0,490.0 L237.0,484.0 L237.5,482.0 L239.0,476.0 L241.0,473.0 L245.0,469.0 L248.0,465.0 L252.0,461.0 L255.0,457.0 L259.0,455.5 Z"/>
<path d="M232.0,441.0 L235.0,443.0 L236.0,447.0 L233.0,450.0 L231.0,451.0"/>
<path d="M250.8,357.5 L255.0,355.8 L257.5,358.3 L259.2,361.7 L256.7,364.2 L252.5,363.3 L250.3,360.8 Z"/>
<path d="M230.0,323.3 L231.7,320.0 L236.7,319.2 L238.3,321.7 L240.8,324.2 L239.2,327.5 L235.0,328.3 L230.8,329.2 Z"/>
<path d="M231.7,347.5 L236.7,341.7 L240.8,341.2 L247.5,342.5 L247.8,340.8 L246.2,336.2"/>
<path d="M400.0,133.7 L405.8,128.7 L416.7,127.8 L420.8,124.5 L423.3,120.3 L425.8,117.0 L430.0,115.0"/>
<path d="M408.3,120.8 L412.5,121.2 L415.0,122.0 L420.8,121.2 L423.3,120.3"/>
<path d="M416.7,158.7 L420.8,157.8 L425.0,161.2 L424.2,167.0 L420.8,168.7 L417.5,167.0 L415.8,162.8 Z"/>
<path d="M430.0,115.7 L434.2,115.3 L439.2,112.0 L446.7,111.2 L450.0,107.0 L456.7,104.5 L460.8,101.2 L461.7,97.0 L465.8,92.8 L465.0,88.7 L468.3,85.3 L470.0,82.0 L473.3,80.3 L469.2,79.5 L471.7,76.2 L478.3,73.7 L480.0,72.0"/>
<path d="M459.2,92.8 L461.7,88.7 L463.3,87.8"/>
<path d="M458.3,172.0 L465.0,162.8 L471.7,153.7 L478.3,143.7 L483.3,135.3 L488.3,127.0 L493.3,119.5 L499.2,111.2 L501.7,102.8 L502.5,95.3 L503.3,88.7 L504.2,83.7 L502.5,78.7 L501.7,72.0"/>
<path d="M533.2,72.0 L537.0,81.0 L540.7,88.5 L542.2,93.0 L546.7,100.5 L542.2,95.2 L538.5,93.0 L532.5,92.7 L528.7,95.2 L526.5,105.0 L525.7,113.2 L528.0,120.0 L532.5,124.5 L534.0,130.5 L536.2,132.0 L537.0,135.0 L538.5,141.7 L537.0,136.5 L534.7,133.5 L529.5,132.7 L526.5,138.0 L523.5,145.5 L522.0,141.0 L520.5,135.0 L521.2,129.0 L520.5,121.5 L522.0,115.5 L520.5,109.5 L517.5,102.0 L519.7,90.0 L519.0,81.0 L516.7,72.0"/>
<path d="M522.5,152.5 L530.0,160.0 L538.3,166.7 L545.0,170.8 L550.0,171.7 L555.0,173.3 L559.2,172.5 L561.7,166.7 L560.8,173.3 L561.7,177.5 L564.2,180.8 L568.3,180.0 L566.7,181.7 L562.5,184.2 L558.0,187.0 L552.0,189.0 L547.0,192.0 L544.0,200.0 L542.0,205.0 L536.0,201.0 L530.0,198.0 L524.0,196.0 L518.0,199.0 L513.0,198.0 L510.0,199.0 L509.0,202.0 L511.0,204.0 L515.0,206.0 L518.5,208.5 L518.0,209.5 L512.0,209.0 L509.0,212.0 L506.0,213.0 L505.0,208.0 L503.5,204.0 L503.0,200.0 L504.0,197.0 L508.0,194.0 L510.5,190.0 L509.0,187.5 L511.0,186.5 L515.0,188.0 L518.5,186.0 L519.0,180.0 L520.8,176.7 L521.7,170.0 L521.7,161.7 L520.0,155.0 Z"/>
<path d="M563.3,174.7 L566.7,170.0 L570.0,162.7 L574.7,162.3 L573.3,164.3 L568.7,167.3 L564.7,174.7 Z"/>
<path d="M578.3,161.7 L581.7,157.5 L586.7,151.7 L593.3,145.8 L596.7,142.5 L593.3,147.5 L586.7,154.2 L580.0,160.8 Z"/>
<path d="M504.0,240.0 L504.5,238.0 L506.0,233.0 L507.0,227.0 L508.0,221.0 L510.5,218.0 L513.0,219.0 L515.0,224.0 L516.5,221.0 L516.5,215.0 L518.5,214.5 L521.5,215.5 L520.5,219.0 L522.0,222.0 L523.0,222.0 L525.5,228.0 L528.5,233.0 L530.7,237.3 L531.8,243.8 L529.6,252.5 L526.3,261.2 L520.9,263.3 L522.0,272.0 L520.9,285.0"/>
<path d="M466.0,160.0 L460.0,169.0 L456.0,174.0 L453.0,180.0 L449.0,185.0 L443.0,190.0 L436.0,195.0 L430.0,197.0 L426.0,197.0 L422.0,194.0 L420.0,190.0 L416.0,189.0 L412.0,192.0 L410.0,195.0 L407.0,197.0 L404.0,198.0 L400.0,199.0"/>
<path d="M417.0,160.0 L418.0,166.0 L420.0,169.0 L423.0,168.0 L425.0,163.0 L424.0,160.0"/>
<path d="M509.0,220.0 L507.9,226.5 L506.8,237.3 L506.8,246.0 L504.7,254.7 L502.5,263.3 L496.0,269.8 L489.5,276.3 L483.0,282.8 L476.5,287.2 L470.0,282.2"/>
<path d="M470.0,278.5 L476.5,277.4 L474.3,281.8 L477.6,286.1"/>
<path d="M420.0,187.5 L418.2,187.0 L416.8,188.6 L414.9,187.4 L413.3,188.3 L411.9,189.4 L412.3,191.5 L410.8,192.5 L409.9,194.4 L407.6,194.8 L406.7,196.7 L404.9,196.3 L403.4,197.9 L401.7,197.5 L401.1,199.3 L398.9,199.8 L398.3,201.7 L396.4,201.9 L395.3,204.0 L393.3,204.2 L392.7,205.8 L390.6,205.9 L390.0,207.5 L388.5,208.9 L389.0,211.1 L387.5,212.5 L388.6,214.0 L388.3,215.8 L388.9,217.6 L387.3,219.1 L388.5,220.9 L387.0,222.4 L387.5,224.2 L385.5,224.4 L384.5,226.5 L382.5,226.7 L381.5,228.1 L379.4,227.7 L378.3,229.2 L376.7,229.8 L376.6,231.9 L375.0,232.5 L373.8,234.3 L371.7,235.0 L370.1,236.0 L368.2,234.9 L366.7,235.8 L364.3,236.0 L362.5,237.5 L360.7,238.7 L360.0,240.8 L359.0,242.7 L360.1,244.8 L359.2,246.7 L360.8,247.3 L360.9,249.4 L362.5,250.0 L363.0,251.7 L365.1,252.1 L365.1,254.2 L366.7,255.0 L367.3,256.6 L369.4,256.7 L370.0,258.3 L371.5,259.7 L371.0,262.0 L373.1,263.0 L373.3,265.0 L374.8,266.4 L374.4,268.6 L376.5,269.7 L376.7,271.7"/>
<path d="M320.0,233.0 L322.5,233.5 L324.9,233.6 L325.0,236.0 L327.0,235.0 L328.0,237.0 L330.2,236.3 L331.0,238.5 L333.0,239.0 L334.8,240.6 L336.5,239.0 L335.5,241.5 L335.0,244.0 L332.7,244.6 L333.0,247.0 L330.8,248.4 L331.5,251.0 L329.0,251.5 L329.0,254.0 L326.8,254.8 L327.5,257.0 L326.0,259.5 L324.5,261.0 L327.0,262.0 L329.0,264.0 L331.0,266.0 L333.0,267.0 L335.0,265.0 L336.5,263.4 L338.0,265.0 L340.0,266.5 L341.5,268.1 L343.0,266.5 L344.2,268.3 L346.0,267.0 L348.0,269.0 L350.3,269.6 L350.0,272.0 L348.0,274.0 L346.2,275.8 L347.5,278.0 L347.1,280.7 L349.5,282.0 L348.4,279.8 L346.0,280.5 L343.8,279.2 L342.0,281.0 L339.6,281.1 L339.5,283.5 L338.8,285.9 L341.0,287.0 L340.6,289.7 L343.0,291.0 L342.7,293.4 L345.0,294.0 L347.5,295.0 L345.5,297.0 L343.3,298.4 L344.0,301.0 L341.8,301.8 L342.5,304.0 L340.0,304.5 L340.0,307.0 L338.2,308.8 L339.5,311.0 L337.7,312.5 L340.8,314.5 L339.0,316.0 L341.2,316.8 L340.5,319.0 L342.5,320.0 L341.5,322.0 L341.8,319.8 L344.0,320.0 L344.6,317.7 L347.0,318.0 L348.0,316.0 L350.0,317.0 L350.4,314.4 L353.0,314.0 L353.8,311.8 L356.0,312.5 L357.8,310.7 L360.0,312.0 L362.0,310.4 L364.0,312.0 L366.3,312.6 L366.0,315.0 L365.3,312.4 L367.5,311.0 L370.0,310.5 L371.8,312.3 L374.0,311.0 L376.4,311.3 L377.0,309.0" stroke-width="1.7"/>
<path d="M377.0,309.0 L379.0,305.0 L380.0,301.0 L381.0,298.0 L379.0,297.0 L380.0,292.0 L381.0,285.0 L380.0,280.0 L378.0,275.0 L376.7,271.7"/>
<path d="M335.8,336.7 L338.3,333.8 L343.3,333.0 L345.0,335.0 L342.5,337.5 L337.5,338.3 Z"/>
<path d="M470.0,286.7 L465.8,291.7 L462.5,296.7 L460.8,301.7 L456.7,306.7"/>
<path d="M456.7,306.7 L455.0,306.7 L453.3,307.5 L452.9,305.6 L451.7,304.2 L449.9,304.1 L448.3,305.0 L446.6,304.6 L445.0,305.8 L443.3,305.4 L441.8,306.3 L439.8,305.8 L438.3,306.7 L436.3,306.5 L434.5,307.7 L432.5,307.5 L430.5,308.4 L428.3,308.3 L426.7,306.3 L424.9,306.0 L423.3,306.7 L421.1,307.0 L419.2,308.3 L417.9,309.8 L417.5,311.7 L416.0,312.4 L415.7,314.3 L414.2,315.0 L413.1,316.5 L411.1,316.8 L410.0,318.3 L408.2,318.4 L406.8,319.9 L405.0,320.0 L403.6,321.3 L401.4,321.2 L400.0,322.5 L398.1,322.9 L396.7,324.2"/>
<path d="M396.7,324.2 L396.6,326.3 L397.5,328.3 L399.5,329.2 L401.7,329.2 L403.3,330.0 L405.1,329.2 L406.7,330.0 L408.5,330.1 L409.9,331.6 L411.7,331.7 L413.0,330.6 L412.9,328.6 L414.2,327.5 L415.1,325.9 L416.7,325.0 L418.3,326.7 L419.9,326.8 L421.1,325.4 L422.9,325.9 L424.2,325.0 L425.8,325.1 L427.0,323.7 L428.7,324.2 L430.0,323.3 L432.2,323.4 L434.2,322.5 L435.7,322.1 L436.7,320.8 L438.6,320.4 L440.0,319.2 L441.7,319.7 L443.3,318.7 L445.0,319.2 L447.3,319.5 L449.2,320.8 L451.7,320.0 L452.1,321.9 L453.3,323.3 L451.4,323.7 L450.0,325.0 L449.2,326.6 L450.0,328.4 L449.2,330.0 L450.3,331.5 L450.0,333.5 L451.5,334.9 L451.7,336.7 L453.4,336.4 L455.0,337.0 L455.9,335.4 L457.9,334.9 L458.4,332.9 L460.0,332.0 L460.9,330.6 L462.8,330.4 L463.4,328.6 L465.0,328.0 L466.2,326.9 L468.0,327.3 L469.0,325.7 L470.8,326.1 L472.0,325.0 L471.4,323.4 L469.6,322.8 L469.4,320.9 L468.0,320.0 L469.2,318.7 L469.1,316.8 L470.7,315.7 L471.0,314.0 L471.6,315.8 L473.4,316.7 L473.6,318.8 L475.0,320.0 L476.8,320.5 L478.5,319.5 L480.2,320.5 L482.0,320.0 L483.8,320.5 L485.5,319.5 L487.2,320.5 L489.0,320.0 L490.4,318.9 L490.6,316.9 L492.4,316.1 L492.6,314.1 L494.0,313.0 L495.1,314.2 L494.7,316.0 L496.3,317.0 L495.9,318.8 L497.0,320.0 L498.0,318.7 L497.5,316.8 L499.0,315.7 L498.5,313.8 L500.0,312.7 L500.0,311.0 L501.9,311.0 L503.4,309.5 L505.4,310.0 L507.0,309.0 L508.4,308.1 L508.6,306.2 L510.4,305.6 L511.0,304.0 L510.0,305.3 L510.5,307.2 L509.0,308.3 L509.0,310.0 L508.8,311.8 L510.2,313.2 L510.0,315.0 L510.9,313.4 L512.9,312.9 L513.4,310.9 L515.0,310.0 L515.4,308.4 L517.1,307.6 L517.1,305.7 L518.8,304.9 L518.7,303.1 L520.0,302.0 L519.0,300.4 L519.5,298.4 L518.0,296.9 L518.0,295.0 L518.0,293.2 L519.4,291.8 L519.0,289.9 L520.4,288.5 L519.9,286.5 L520.9,285.0"/>
<path d="M396.5,324.5 L395.8,326.2 L396.0,328.0 L394.4,328.6 L393.5,330.0 L391.5,330.6 L390.0,332.0 L388.2,332.6 L387.0,334.0 L384.8,334.6 L383.0,336.0 L381.0,336.8 L379.5,338.5 L379.0,341.0 L380.5,343.0 L379.8,344.4 L380.0,346.0 L380.0,347.9 L381.0,349.5 L383.0,348.5 L384.7,348.8 L386.0,350.0 L387.0,351.9 L387.0,354.0 L386.4,355.8 L385.0,357.0 L386.0,358.3 L386.0,360.0 L387.0,361.3 L387.0,363.0 L387.0,364.7 L385.5,365.8 L386.0,367.7 L385.0,369.0 L387.0,371.0 L388.2,372.4 L390.0,373.0 L390.9,374.4 L392.5,375.0 L394.0,373.0 L395.8,371.6 L398.0,371.0 L399.1,369.1 L401.0,368.0 L400.9,366.3 L402.2,364.9 L401.5,363.1 L402.8,361.7 L402.7,360.0 L403.8,358.6 L403.6,356.7 L404.7,355.3 L404.9,353.1 L406.0,351.3 L406.6,349.7 L408.0,348.7 L408.2,346.8 L409.3,345.3 L408.0,342.7 L406.9,341.4 L405.1,341.3 L404.0,340.0 L404.6,338.4 L406.0,337.3 L404.0,335.3 L401.9,335.2 L400.0,336.0 L400.0,333.9 L399.0,332.0 L397.5,329.5 Z"/>
<path d="M407.5,339.2 L409.1,339.1 L410.1,337.6 L411.7,337.5 L412.8,336.2 L414.7,336.3 L415.8,335.0 L417.5,334.3 L418.3,332.4 L420.0,331.7 L420.9,330.1 L422.5,329.2 L424.2,330.8 L426.4,330.5 L428.3,329.2 L430.2,328.8 L431.7,327.5 L433.3,326.6 L434.2,325.0 L436.2,325.5 L438.3,325.0 L439.7,326.7 L441.7,327.5 L442.1,329.2 L443.8,330.2 L443.7,332.1 L445.0,333.3 L443.5,333.9 L442.7,335.3 L440.7,336.3 L439.3,338.0 L438.2,339.8 L438.0,342.0 L437.4,340.4 L436.0,339.3 L434.2,338.2 L432.0,338.0 L429.9,337.9 L428.0,338.7 L426.7,339.8 L426.6,341.6 L425.3,342.7 L424.4,344.7 L422.7,346.0 L422.8,347.8 L422.0,349.3 L420.4,349.8 L418.7,349.3 L417.3,347.9 L416.7,346.0 L415.5,344.2 L415.3,342.0 L414.5,340.1 L414.7,338.0 L412.0,338.7 Z"/>
<path d="M382.0,343.0 L387.0,342.0 L388.0,346.0 L387.0,350.0 L384.0,348.0 L382.0,345.0 Z"/>
<path d="M391.0,365.0 L393.0,364.0 L393.5,370.0 L392.0,372.0 L391.0,369.0 Z"/>
<path d="M357.5,436.5 L355.5,439 L352.5,440.5 L350,443.5 L348,447.5 L349.8,448.8 L352.8,445.5 L355.5,443 L357.8,440 Z" fill="#000" stroke-width="0.8"/>
<path d="M238,427.5 L240.5,426.5 L243,427 L242,429.5 L240,431.5 L238.5,430.5 Z" fill="#000" stroke-width="0.8"/>
<path d="M232,444.5 L234.5,445 L235,448 L233,450.5 L232,450 Z" fill="#000" stroke-width="0.8"/>
<path d="M246,422 L248.5,421.5 L249,424 L247,425 Z" fill="#000" stroke-width="0.8"/></g>
<g id="grid" fill="none" stroke="#000" stroke-width="1.3" stroke-dasharray="1.3 1.6"><path d="M204.60,838.67 L205.05,830.96 L205.51,823.24 L205.98,815.52 L206.47,807.81 L206.96,800.10 L207.47,792.38 L207.98,784.67 L208.51,776.96 L209.05,769.25 L209.60,761.54 L210.16,753.84 L210.73,746.13 L211.31,738.43 L211.90,730.72 L212.51,723.02 L213.12,715.32 L213.74,707.62 L214.38,699.92 L215.02,692.22 L215.68,684.53 L216.34,676.83 L217.02,669.14 L217.70,661.44 L218.40,653.75 L219.11,646.06 L219.82,638.37 L220.55,630.68 L221.29,623.00 L222.03,615.31 L222.79,607.63 L223.56,599.94 L224.33,592.26 L225.12,584.58 L225.92,576.90 L226.72,569.22 L227.54,561.54 L228.37,553.87 L229.20,546.19 L230.05,538.52 L230.91,530.85 L231.77,523.17 L232.65,515.50 L233.54,507.84 L234.43,500.17 L235.34,492.50 L236.25,484.84 L237.18,477.17 L238.11,469.51 L239.06,461.85 L240.01,454.19 L240.97,446.53 L241.95,438.88 L242.93,431.22 L243.92,423.57 L244.93,415.91 L245.94,408.26 L246.96,400.61 L247.99,392.96 L249.03,385.31 L250.08,377.67 L251.14,370.02 L252.21,362.38 L253.29,354.74 L254.38,347.10 L255.47,339.46 L256.58,331.82 L257.70,324.18 L258.83,316.55 L259.96,308.91 L261.11,301.28 L262.26,293.65 L263.43,286.02 L264.60,278.39 L265.78,270.77 L266.98,263.14 L268.18,255.52 L269.39,247.90 L270.61,240.28 L271.85,232.66 L273.09,225.04 L274.34,217.42 L275.60,209.81 L276.87,202.20 L278.15,194.59 L279.43,186.98 L280.73,179.37 L282.04,171.76 L283.36,164.16 L284.68,156.55 L286.02,148.95 L287.37,141.35 L288.72,133.75 L290.09,126.15 L291.46,118.56 L292.85,110.96 L294.24,103.37 L295.64,95.78 L297.06,88.19 L298.48,80.61 L299.91,73.02 L301.36,65.44 L302.81,57.85 L304.27,50.27 L305.74,42.69 L307.23,35.12 L308.72,27.54 L310.22,19.97 L311.73,12.40 L313.25,4.83 L314.78,-2.74 L316.32,-10.31 L317.87,-17.87 L319.43,-25.43 L321.01,-32.99 L322.59,-40.55 L324.18,-48.11 L325.78,-55.66 L327.39,-63.22 L329.01,-70.77 L330.64,-78.32 L332.28,-85.87 L333.94,-93.41 L335.60,-100.96 L337.27,-108.50 L338.95,-116.04 L340.64,-123.57 L342.35,-131.11 L344.06,-138.64 L345.79,-146.17 L347.52,-153.70 L349.26,-161.23 L351.02,-168.76 L352.79,-176.28 L354.56,-183.80 L356.35,-191.32 L358.15,-198.83 L359.96,-206.35 L361.78,-213.86 L363.61,-221.37 L365.45,-228.88"/>
<path d="M285.83,845.77 L286.13,838.09 L286.43,830.40 L286.74,822.72 L287.07,815.04 L287.39,807.35 L287.73,799.67 L288.07,791.99 L288.42,784.31 L288.78,776.63 L289.14,768.95 L289.51,761.27 L289.89,753.59 L290.28,745.91 L290.67,738.23 L291.07,730.55 L291.47,722.87 L291.89,715.20 L292.31,707.52 L292.73,699.84 L293.17,692.17 L293.61,684.49 L294.06,676.82 L294.51,669.15 L294.97,661.47 L295.44,653.80 L295.92,646.13 L296.40,638.46 L296.89,630.78 L297.38,623.11 L297.89,615.44 L298.40,607.77 L298.91,600.10 L299.43,592.44 L299.96,584.77 L300.50,577.10 L301.04,569.43 L301.59,561.77 L302.14,554.10 L302.71,546.44 L303.28,538.77 L303.85,531.11 L304.43,523.44 L305.02,515.78 L305.62,508.12 L306.22,500.46 L306.82,492.79 L307.44,485.13 L308.06,477.47 L308.69,469.81 L309.32,462.15 L309.96,454.50 L310.61,446.84 L311.26,439.18 L311.92,431.52 L312.59,423.87 L313.26,416.21 L313.94,408.56 L314.62,400.90 L315.32,393.25 L316.01,385.59 L316.72,377.94 L317.43,370.29 L318.15,362.64 L318.87,354.99 L319.60,347.34 L320.34,339.69 L321.08,332.04 L321.83,324.39 L322.58,316.74 L323.35,309.10 L324.12,301.45 L324.89,293.80 L325.67,286.16 L326.46,278.52 L327.25,270.87 L328.05,263.23 L328.86,255.59 L329.67,247.94 L330.49,240.30 L331.32,232.66 L332.15,225.02 L332.99,217.38 L333.83,209.75 L334.69,202.11 L335.54,194.47 L336.41,186.83 L337.28,179.20 L338.16,171.56 L339.04,163.93 L339.93,156.30 L340.83,148.66 L341.73,141.03 L342.64,133.40 L343.55,125.77 L344.48,118.14 L345.41,110.51 L346.34,102.88 L347.28,95.25 L348.23,87.63 L349.19,80.00 L350.15,72.37 L351.12,64.75 L352.09,57.13 L353.07,49.50 L354.06,41.88 L355.05,34.26 L356.05,26.64 L357.06,19.02 L358.08,11.40 L359.10,3.78 L360.13,-3.84 L361.16,-11.45 L362.20,-19.07 L363.25,-26.69 L364.30,-34.30 L365.36,-41.91 L366.43,-49.53 L367.51,-57.14 L368.59,-64.75 L369.68,-72.36 L370.77,-79.97 L371.88,-87.58 L372.99,-95.18 L374.10,-102.79 L375.22,-110.40 L376.35,-118.00 L377.49,-125.61 L378.64,-133.21 L379.79,-140.81 L380.95,-148.41 L382.11,-156.01 L383.28,-163.61 L384.46,-171.21 L385.65,-178.81 L386.84,-186.40 L388.04,-194.00 L389.25,-201.59 L390.47,-209.19 L391.69,-216.78 L392.92,-224.37"/>
<path d="M367.19,850.02 L367.34,842.35 L367.49,834.69 L367.64,827.02 L367.80,819.36 L367.97,811.69 L368.13,804.03 L368.30,796.37 L368.48,788.70 L368.66,781.04 L368.84,773.37 L369.02,765.71 L369.21,758.05 L369.40,750.38 L369.60,742.72 L369.80,735.06 L370.00,727.39 L370.20,719.73 L370.41,712.07 L370.63,704.40 L370.84,696.74 L371.06,689.08 L371.29,681.42 L371.51,673.75 L371.74,666.09 L371.98,658.43 L372.21,650.77 L372.45,643.10 L372.70,635.44 L372.95,627.78 L373.20,620.12 L373.45,612.46 L373.71,604.80 L373.97,597.14 L374.23,589.48 L374.50,581.81 L374.77,574.15 L375.04,566.49 L375.32,558.83 L375.60,551.17 L375.88,543.51 L376.17,535.85 L376.46,528.19 L376.75,520.53 L377.05,512.87 L377.35,505.21 L377.65,497.56 L377.96,489.90 L378.27,482.24 L378.58,474.58 L378.90,466.92 L379.22,459.26 L379.54,451.60 L379.87,443.94 L380.20,436.29 L380.53,428.63 L380.86,420.97 L381.20,413.31 L381.55,405.66 L381.89,398.00 L382.24,390.34 L382.59,382.68 L382.95,375.03 L383.30,367.37 L383.67,359.71 L384.03,352.06 L384.40,344.40 L384.77,336.75 L385.14,329.09 L385.52,321.43 L385.90,313.78 L386.28,306.12 L386.67,298.47 L387.06,290.81 L387.45,283.16 L387.85,275.50 L388.25,267.85 L388.65,260.19 L389.06,252.54 L389.47,244.88 L389.88,237.23 L390.30,229.58 L390.72,221.92 L391.14,214.27 L391.56,206.62 L391.99,198.96 L392.42,191.31 L392.86,183.66 L393.30,176.00 L393.74,168.35 L394.18,160.70 L394.63,153.05 L395.08,145.40 L395.54,137.74 L396.00,130.09 L396.46,122.44 L396.92,114.79 L397.39,107.14 L397.86,99.49 L398.33,91.84 L398.81,84.19 L399.29,76.54 L399.77,68.89 L400.26,61.24 L400.75,53.59 L401.25,45.94 L401.74,38.29 L402.24,30.64 L402.75,22.99 L403.26,15.34 L403.77,7.69 L404.28,0.04 L404.80,-7.60 L405.32,-15.25 L405.84,-22.90 L406.37,-30.55 L406.90,-38.19 L407.43,-45.84 L407.97,-53.49 L408.51,-61.13 L409.06,-68.78 L409.61,-76.43 L410.16,-84.07 L410.71,-91.72 L411.27,-99.36 L411.83,-107.01 L412.40,-114.66 L412.97,-122.30 L413.54,-129.95 L414.12,-137.59 L414.70,-145.23 L415.28,-152.88 L415.87,-160.52 L416.46,-168.16 L417.05,-175.81 L417.65,-183.45 L418.25,-191.09 L418.86,-198.74 L419.46,-206.38 L420.08,-214.02 L420.69,-221.66"/>
<path d="M448.61,851.43 L448.61,843.77 L448.61,836.12 L448.61,828.46 L448.61,820.80 L448.61,813.14 L448.61,805.48 L448.61,797.82 L448.61,790.16 L448.61,782.51 L448.61,774.85 L448.61,767.19 L448.61,759.53 L448.61,751.87 L448.61,744.21 L448.61,736.55 L448.61,728.90 L448.61,721.24 L448.61,713.58 L448.61,705.92 L448.61,698.26 L448.61,690.60 L448.61,682.94 L448.61,675.29 L448.61,667.63 L448.61,659.97 L448.61,652.31 L448.61,644.65 L448.61,636.99 L448.61,629.34 L448.61,621.68 L448.61,614.02 L448.61,606.36 L448.61,598.70 L448.61,591.04 L448.61,583.38 L448.61,575.73 L448.61,568.07 L448.61,560.41 L448.61,552.75 L448.61,545.09 L448.61,537.43 L448.61,529.77 L448.61,522.12 L448.61,514.46 L448.61,506.80 L448.61,499.14 L448.61,491.48 L448.61,483.82 L448.61,476.17 L448.61,468.51 L448.61,460.85 L448.61,453.19 L448.61,445.53 L448.61,437.87 L448.61,430.21 L448.61,422.56 L448.61,414.90 L448.61,407.24 L448.61,399.58 L448.61,391.92 L448.61,384.26 L448.61,376.60 L448.61,368.95 L448.61,361.29 L448.61,353.63 L448.61,345.97 L448.61,338.31 L448.61,330.65 L448.61,323.00 L448.61,315.34 L448.61,307.68 L448.61,300.02 L448.61,292.36 L448.61,284.70 L448.61,277.04 L448.61,269.39 L448.61,261.73 L448.61,254.07 L448.61,246.41 L448.61,238.75 L448.61,231.09 L448.61,223.43 L448.61,215.78 L448.61,208.12 L448.61,200.46 L448.61,192.80 L448.61,185.14 L448.61,177.48 L448.61,169.83 L448.61,162.17 L448.61,154.51 L448.61,146.85 L448.61,139.19 L448.61,131.53 L448.61,123.87 L448.61,116.22 L448.61,108.56 L448.61,100.90 L448.61,93.24 L448.61,85.58 L448.61,77.92 L448.61,70.26 L448.61,62.61 L448.61,54.95 L448.61,47.29 L448.61,39.63 L448.61,31.97 L448.61,24.31 L448.61,16.66 L448.61,9.00 L448.61,1.34 L448.61,-6.32 L448.61,-13.98 L448.61,-21.64 L448.61,-29.30 L448.61,-36.95 L448.61,-44.61 L448.61,-52.27 L448.61,-59.93 L448.61,-67.59 L448.61,-75.25 L448.61,-82.91 L448.61,-90.56 L448.61,-98.22 L448.61,-105.88 L448.61,-113.54 L448.61,-121.20 L448.61,-128.86 L448.61,-136.52 L448.61,-144.17 L448.61,-151.83 L448.61,-159.49 L448.61,-167.15 L448.61,-174.81 L448.61,-182.47 L448.61,-190.12 L448.61,-197.78 L448.61,-205.44 L448.61,-213.10 L448.61,-220.76"/>
<path d="M530.03,850.02 L529.88,842.35 L529.73,834.69 L529.58,827.02 L529.42,819.36 L529.25,811.69 L529.09,804.03 L528.92,796.37 L528.74,788.70 L528.56,781.04 L528.38,773.37 L528.20,765.71 L528.01,758.05 L527.82,750.38 L527.62,742.72 L527.42,735.06 L527.22,727.39 L527.02,719.73 L526.81,712.07 L526.59,704.40 L526.38,696.74 L526.16,689.08 L525.93,681.42 L525.71,673.75 L525.48,666.09 L525.24,658.43 L525.01,650.77 L524.77,643.10 L524.52,635.44 L524.27,627.78 L524.02,620.12 L523.77,612.46 L523.51,604.80 L523.25,597.14 L522.99,589.48 L522.72,581.81 L522.45,574.15 L522.18,566.49 L521.90,558.83 L521.62,551.17 L521.34,543.51 L521.05,535.85 L520.76,528.19 L520.47,520.53 L520.17,512.87 L519.87,505.21 L519.57,497.56 L519.26,489.90 L518.95,482.24 L518.64,474.58 L518.32,466.92 L518.00,459.26 L517.68,451.60 L517.35,443.94 L517.02,436.29 L516.69,428.63 L516.36,420.97 L516.02,413.31 L515.67,405.66 L515.33,398.00 L514.98,390.34 L514.63,382.68 L514.27,375.03 L513.92,367.37 L513.55,359.71 L513.19,352.06 L512.82,344.40 L512.45,336.75 L512.08,329.09 L511.70,321.43 L511.32,313.78 L510.94,306.12 L510.55,298.47 L510.16,290.81 L509.77,283.16 L509.37,275.50 L508.97,267.85 L508.57,260.19 L508.16,252.54 L507.75,244.88 L507.34,237.23 L506.92,229.58 L506.50,221.92 L506.08,214.27 L505.66,206.62 L505.23,198.96 L504.80,191.31 L504.36,183.66 L503.92,176.00 L503.48,168.35 L503.04,160.70 L502.59,153.05 L502.14,145.40 L501.68,137.74 L501.22,130.09 L500.76,122.44 L500.30,114.79 L499.83,107.14 L499.36,99.49 L498.89,91.84 L498.41,84.19 L497.93,76.54 L497.45,68.89 L496.96,61.24 L496.47,53.59 L495.97,45.94 L495.48,38.29 L494.98,30.64 L494.47,22.99 L493.96,15.34 L493.45,7.69 L492.94,0.04 L492.42,-7.60 L491.90,-15.25 L491.38,-22.90 L490.85,-30.55 L490.32,-38.19 L489.79,-45.84 L489.25,-53.49 L488.71,-61.13 L488.16,-68.78 L487.61,-76.43 L487.06,-84.07 L486.51,-91.72 L485.95,-99.36 L485.39,-107.01 L484.82,-114.66 L484.25,-122.30 L483.68,-129.95 L483.10,-137.59 L482.52,-145.23 L481.94,-152.88 L481.35,-160.52 L480.76,-168.16 L480.17,-175.81 L479.57,-183.45 L478.97,-191.09 L478.36,-198.74 L477.76,-206.38 L477.14,-214.02 L476.53,-221.66"/>
<path d="M611.39,845.77 L611.09,838.09 L610.79,830.40 L610.48,822.72 L610.15,815.04 L609.83,807.35 L609.49,799.67 L609.15,791.99 L608.80,784.31 L608.44,776.63 L608.08,768.95 L607.71,761.27 L607.33,753.59 L606.94,745.91 L606.55,738.23 L606.15,730.55 L605.75,722.87 L605.33,715.20 L604.91,707.52 L604.49,699.84 L604.05,692.17 L603.61,684.49 L603.16,676.82 L602.71,669.15 L602.25,661.47 L601.78,653.80 L601.30,646.13 L600.82,638.46 L600.33,630.78 L599.84,623.11 L599.33,615.44 L598.82,607.77 L598.31,600.10 L597.79,592.44 L597.26,584.77 L596.72,577.10 L596.18,569.43 L595.63,561.77 L595.08,554.10 L594.51,546.44 L593.94,538.77 L593.37,531.11 L592.79,523.44 L592.20,515.78 L591.60,508.12 L591.00,500.46 L590.40,492.79 L589.78,485.13 L589.16,477.47 L588.53,469.81 L587.90,462.15 L587.26,454.50 L586.61,446.84 L585.96,439.18 L585.30,431.52 L584.63,423.87 L583.96,416.21 L583.28,408.56 L582.60,400.90 L581.90,393.25 L581.21,385.59 L580.50,377.94 L579.79,370.29 L579.07,362.64 L578.35,354.99 L577.62,347.34 L576.88,339.69 L576.14,332.04 L575.39,324.39 L574.64,316.74 L573.87,309.10 L573.10,301.45 L572.33,293.80 L571.55,286.16 L570.76,278.52 L569.97,270.87 L569.17,263.23 L568.36,255.59 L567.55,247.94 L566.73,240.30 L565.90,232.66 L565.07,225.02 L564.23,217.38 L563.39,209.75 L562.53,202.11 L561.68,194.47 L560.81,186.83 L559.94,179.20 L559.06,171.56 L558.18,163.93 L557.29,156.30 L556.39,148.66 L555.49,141.03 L554.58,133.40 L553.67,125.77 L552.74,118.14 L551.81,110.51 L550.88,102.88 L549.94,95.25 L548.99,87.63 L548.03,80.00 L547.07,72.37 L546.10,64.75 L545.13,57.13 L544.15,49.50 L543.16,41.88 L542.17,34.26 L541.17,26.64 L540.16,19.02 L539.14,11.40 L538.12,3.78 L537.09,-3.84 L536.06,-11.45 L535.02,-19.07 L533.97,-26.69 L532.92,-34.30 L531.86,-41.91 L530.79,-49.53 L529.71,-57.14 L528.63,-64.75 L527.54,-72.36 L526.45,-79.97 L525.34,-87.58 L524.23,-95.18 L523.12,-102.79 L522.00,-110.40 L520.87,-118.00 L519.73,-125.61 L518.58,-133.21 L517.43,-140.81 L516.27,-148.41 L515.11,-156.01 L513.94,-163.61 L512.76,-171.21 L511.57,-178.81 L510.38,-186.40 L509.18,-194.00 L507.97,-201.59 L506.75,-209.19 L505.53,-216.78 L504.30,-224.37"/>
<path d="M-161.90,336.84 L-155.51,339.82 L-149.11,342.76 L-142.69,345.67 L-136.26,348.54 L-129.82,351.37 L-123.36,354.17 L-116.89,356.93 L-110.41,359.66 L-103.92,362.35 L-97.41,365.00 L-90.89,367.62 L-84.36,370.21 L-77.81,372.76 L-71.25,375.27 L-64.69,377.75 L-58.11,380.19 L-51.52,382.60 L-44.91,384.98 L-38.30,387.31 L-31.68,389.62 L-25.04,391.89 L-18.40,394.12 L-11.74,396.32 L-5.08,398.49 L1.59,400.62 L8.28,402.72 L14.97,404.79 L21.67,406.82 L28.38,408.81 L35.10,410.77 L41.83,412.70 L48.57,414.60 L55.31,416.46 L62.07,418.29 L68.83,420.08 L75.60,421.84 L82.38,423.57 L89.16,425.26 L95.95,426.92 L102.75,428.55 L109.56,430.14 L116.37,431.70 L123.19,433.23 L130.02,434.72 L136.85,436.19 L143.69,437.61 L150.53,439.01 L157.39,440.37 L164.24,441.70 L171.11,443.00 L177.97,444.27 L184.85,445.50 L191.73,446.70 L198.61,447.87 L205.50,449.00 L212.39,450.10 L219.29,451.17 L226.19,452.21 L233.10,453.22 L240.01,454.19 L246.93,455.13 L253.84,456.04 L260.77,456.92 L267.69,457.76 L274.62,458.57 L281.56,459.35 L288.49,460.10 L295.43,460.82 L302.38,461.50 L309.32,462.15 L316.27,462.77 L323.22,463.36 L330.17,463.92 L337.13,464.44 L344.09,464.94 L351.04,465.40 L358.01,465.82 L364.97,466.22 L371.93,466.59 L378.90,466.92 L385.87,467.22 L392.84,467.49 L399.80,467.73 L406.78,467.94 L413.75,468.11 L420.72,468.25 L427.69,468.36 L434.66,468.44 L441.64,468.49 L448.61,468.51 L455.58,468.49 L462.56,468.44 L469.53,468.36 L476.50,468.25 L483.47,468.11 L490.44,467.94 L497.42,467.73 L504.38,467.49 L511.35,467.22 L518.32,466.92 L525.29,466.59 L532.25,466.22 L539.21,465.82 L546.18,465.40 L553.13,464.94 L560.09,464.44 L567.05,463.92 L574.00,463.36 L580.95,462.77 L587.90,462.15 L594.84,461.50 L601.79,460.82 L608.73,460.10 L615.66,459.35 L622.60,458.57 L629.53,457.76 L636.45,456.92 L643.38,456.04 L650.29,455.13 L657.21,454.19 L664.12,453.22 L671.03,452.21 L677.93,451.17 L684.83,450.10 L691.72,449.00 L698.61,447.87 L705.49,446.70 L712.37,445.50 L719.25,444.27 L726.11,443.00 L732.98,441.70 L739.83,440.37 L746.69,439.01 L753.53,437.61 L760.37,436.19 L767.20,434.72 L774.03,433.23 L780.85,431.70 L787.66,430.14 L794.47,428.55 L801.27,426.92 L808.06,425.26 L814.84,423.57 L821.62,421.84 L828.39,420.08 L835.15,418.29 L841.91,416.46 L848.65,414.60 L855.39,412.70 L862.12,410.77 L868.84,408.81 L875.55,406.82 L882.25,404.79 L888.94,402.72 L895.63,400.62 L902.30,398.49 L908.96,396.32 L915.62,394.12 L922.26,391.89 L928.90,389.62 L935.52,387.31 L942.13,384.98 L948.74,382.60 L955.33,380.19 L961.91,377.75 L968.47,375.27 L975.03,372.76 L981.58,370.21 L988.11,367.62 L994.63,365.00 L1001.14,362.35 L1007.63,359.66 L1014.11,356.93 L1020.58,354.17 L1027.04,351.37 L1033.48,348.54 L1039.91,345.67 L1046.33,342.76 L1052.73,339.82 L1059.12,336.84"/>
<path d="M-130.34,261.21 L-124.34,264.15 L-118.32,267.06 L-112.29,269.94 L-106.24,272.78 L-100.17,275.59 L-94.10,278.36 L-88.00,281.09 L-81.90,283.79 L-75.78,286.46 L-69.64,289.09 L-63.50,291.69 L-57.33,294.25 L-51.16,296.77 L-44.97,299.27 L-38.78,301.72 L-32.56,304.15 L-26.34,306.54 L-20.11,308.89 L-13.86,311.21 L-7.60,313.50 L-1.33,315.75 L4.95,317.97 L11.24,320.15 L17.55,322.30 L23.86,324.42 L30.18,326.50 L36.52,328.55 L42.86,330.57 L49.21,332.55 L55.58,334.50 L61.95,336.41 L68.33,338.30 L74.72,340.15 L81.12,341.96 L87.53,343.74 L93.95,345.49 L100.38,347.21 L106.81,348.89 L113.25,350.54 L119.70,352.16 L126.16,353.74 L132.62,355.30 L139.09,356.81 L145.57,358.30 L152.06,359.75 L158.55,361.18 L165.05,362.56 L171.56,363.92 L178.07,365.24 L184.59,366.53 L191.11,367.79 L197.65,369.02 L204.18,370.21 L210.72,371.37 L217.27,372.50 L223.82,373.60 L230.38,374.67 L236.94,375.70 L243.51,376.70 L250.08,377.67 L256.66,378.60 L263.24,379.51 L269.82,380.38 L276.41,381.22 L283.00,382.03 L289.60,382.81 L296.20,383.55 L302.80,384.26 L309.40,384.95 L316.01,385.59 L322.63,386.21 L329.24,386.80 L335.86,387.35 L342.48,387.87 L349.10,388.36 L355.72,388.82 L362.35,389.25 L368.98,389.65 L375.61,390.01 L382.24,390.34 L388.87,390.64 L395.51,390.91 L402.14,391.15 L408.78,391.35 L415.42,391.53 L422.05,391.67 L428.69,391.78 L435.33,391.86 L441.97,391.91 L448.61,391.92 L455.25,391.91 L461.89,391.86 L468.53,391.78 L475.17,391.67 L481.80,391.53 L488.44,391.35 L495.08,391.15 L501.71,390.91 L508.35,390.64 L514.98,390.34 L521.61,390.01 L528.24,389.65 L534.87,389.25 L541.50,388.82 L548.12,388.36 L554.74,387.87 L561.36,387.35 L567.98,386.80 L574.59,386.21 L581.21,385.59 L587.82,384.95 L594.42,384.26 L601.02,383.55 L607.62,382.81 L614.22,382.03 L620.81,381.22 L627.40,380.38 L633.98,379.51 L640.56,378.60 L647.14,377.67 L653.71,376.70 L660.28,375.70 L666.84,374.67 L673.40,373.60 L679.95,372.50 L686.50,371.37 L693.04,370.21 L699.57,369.02 L706.11,367.79 L712.63,366.53 L719.15,365.24 L725.66,363.92 L732.17,362.56 L738.67,361.18 L745.16,359.75 L751.65,358.30 L758.13,356.81 L764.60,355.30 L771.06,353.74 L777.52,352.16 L783.97,350.54 L790.41,348.89 L796.84,347.21 L803.27,345.49 L809.69,343.74 L816.10,341.96 L822.50,340.15 L828.89,338.30 L835.27,336.41 L841.64,334.50 L848.01,332.55 L854.36,330.57 L860.70,328.55 L867.04,326.50 L873.36,324.42 L879.67,322.30 L885.98,320.15 L892.27,317.97 L898.55,315.75 L904.82,313.50 L911.08,311.21 L917.33,308.89 L923.56,306.54 L929.78,304.15 L936.00,301.72 L942.19,299.27 L948.38,296.77 L954.55,294.25 L960.72,291.69 L966.86,289.09 L973.00,286.46 L979.12,283.79 L985.22,281.09 L991.32,278.36 L997.39,275.59 L1003.46,272.78 L1009.51,269.94 L1015.54,267.06 L1021.56,264.15 L1027.56,261.21"/>
<path d="M-96.10,186.87 L-90.50,189.75 L-84.89,192.60 L-79.27,195.42 L-73.62,198.20 L-67.96,200.95 L-62.29,203.67 L-56.60,206.35 L-50.90,209.00 L-45.18,211.61 L-39.44,214.19 L-33.70,216.74 L-27.93,219.25 L-22.16,221.73 L-16.37,224.17 L-10.57,226.59 L-4.75,228.96 L1.08,231.31 L6.92,233.62 L12.77,235.90 L18.64,238.14 L24.51,240.36 L30.40,242.54 L36.31,244.68 L42.22,246.80 L48.14,248.88 L54.08,250.92 L60.02,252.94 L65.98,254.92 L71.95,256.87 L77.93,258.78 L83.91,260.67 L89.91,262.52 L95.92,264.34 L101.94,266.12 L107.96,267.88 L114.00,269.60 L120.04,271.29 L126.09,272.94 L132.15,274.57 L138.22,276.16 L144.30,277.72 L150.39,279.24 L156.48,280.74 L162.58,282.20 L168.69,283.63 L174.81,285.03 L180.93,286.40 L187.06,287.74 L193.20,289.04 L199.34,290.31 L205.49,291.55 L211.65,292.76 L217.81,293.94 L223.98,295.08 L230.16,296.19 L236.34,297.27 L242.52,298.32 L248.71,299.34 L254.91,300.33 L261.11,301.28 L267.31,302.20 L273.52,303.10 L279.74,303.96 L285.96,304.79 L292.18,305.58 L298.40,306.35 L304.63,307.08 L310.87,307.79 L317.11,308.46 L323.35,309.10 L329.59,309.71 L335.84,310.28 L342.09,310.83 L348.34,311.34 L354.59,311.83 L360.85,312.28 L367.11,312.70 L373.37,313.09 L379.64,313.45 L385.90,313.78 L392.17,314.07 L398.43,314.34 L404.70,314.57 L410.97,314.78 L417.25,314.95 L423.52,315.09 L429.79,315.20 L436.06,315.27 L442.34,315.32 L448.61,315.34 L454.88,315.32 L461.16,315.27 L467.43,315.20 L473.70,315.09 L479.97,314.95 L486.25,314.78 L492.52,314.57 L498.79,314.34 L505.05,314.07 L511.32,313.78 L517.58,313.45 L523.85,313.09 L530.11,312.70 L536.37,312.28 L542.63,311.83 L548.88,311.34 L555.13,310.83 L561.38,310.28 L567.63,309.71 L573.87,309.10 L580.11,308.46 L586.35,307.79 L592.59,307.08 L598.82,306.35 L605.04,305.58 L611.26,304.79 L617.48,303.96 L623.70,303.10 L629.91,302.20 L636.11,301.28 L642.31,300.33 L648.51,299.34 L654.70,298.32 L660.88,297.27 L667.06,296.19 L673.24,295.08 L679.41,293.94 L685.57,292.76 L691.73,291.55 L697.88,290.31 L704.02,289.04 L710.16,287.74 L716.29,286.40 L722.41,285.03 L728.53,283.63 L734.64,282.20 L740.74,280.74 L746.83,279.24 L752.92,277.72 L759.00,276.16 L765.07,274.57 L771.13,272.94 L777.18,271.29 L783.22,269.60 L789.26,267.88 L795.28,266.12 L801.30,264.34 L807.31,262.52 L813.31,260.67 L819.29,258.78 L825.27,256.87 L831.24,254.92 L837.20,252.94 L843.14,250.92 L849.08,248.88 L855.00,246.80 L860.91,244.68 L866.82,242.54 L872.71,240.36 L878.58,238.14 L884.45,235.90 L890.30,233.62 L896.14,231.31 L901.97,228.96 L907.79,226.59 L913.59,224.17 L919.38,221.73 L925.15,219.25 L930.92,216.74 L936.66,214.19 L942.40,211.61 L948.12,209.00 L953.82,206.35 L959.51,203.67 L965.18,200.95 L970.84,198.20 L976.49,195.42 L982.11,192.60 L987.72,189.75 L993.32,186.87"/>
<path d="M-59.23,113.87 L-54.07,116.66 L-48.89,119.42 L-43.69,122.15 L-38.47,124.85 L-33.24,127.51 L-28.00,130.14 L-22.74,132.74 L-17.46,135.31 L-12.17,137.84 L-6.86,140.35 L-1.54,142.81 L3.80,145.25 L9.15,147.66 L14.52,150.03 L19.90,152.37 L25.29,154.68 L30.70,156.96 L36.12,159.20 L41.55,161.41 L47.00,163.59 L52.46,165.74 L57.93,167.86 L63.41,169.94 L68.91,172.00 L74.42,174.02 L79.94,176.01 L85.47,177.97 L91.01,179.89 L96.56,181.79 L102.13,183.65 L107.70,185.48 L113.28,187.28 L118.88,189.05 L124.48,190.79 L130.10,192.50 L135.72,194.17 L141.36,195.82 L147.00,197.43 L152.65,199.01 L158.31,200.56 L163.98,202.08 L169.66,203.56 L175.34,205.02 L181.04,206.45 L186.74,207.84 L192.45,209.20 L198.16,210.54 L203.89,211.84 L209.62,213.11 L215.36,214.35 L221.10,215.55 L226.86,216.73 L232.61,217.88 L238.38,218.99 L244.15,220.08 L249.93,221.13 L255.71,222.15 L261.50,223.15 L267.29,224.11 L273.09,225.04 L278.89,225.94 L284.70,226.81 L290.51,227.65 L296.33,228.46 L302.15,229.23 L307.98,229.98 L313.81,230.70 L319.64,231.38 L325.48,232.04 L331.32,232.66 L337.16,233.26 L343.01,233.82 L348.86,234.35 L354.71,234.86 L360.57,235.33 L366.43,235.77 L372.29,236.18 L378.15,236.56 L384.02,236.91 L389.88,237.23 L395.75,237.52 L401.62,237.78 L407.49,238.01 L413.36,238.20 L419.24,238.37 L425.11,238.51 L430.98,238.61 L436.86,238.69 L442.73,238.74 L448.61,238.75 L454.49,238.74 L460.36,238.69 L466.24,238.61 L472.11,238.51 L477.98,238.37 L483.86,238.20 L489.73,238.01 L495.60,237.78 L501.47,237.52 L507.34,237.23 L513.20,236.91 L519.07,236.56 L524.93,236.18 L530.79,235.77 L536.65,235.33 L542.51,234.86 L548.36,234.35 L554.21,233.82 L560.06,233.26 L565.90,232.66 L571.74,232.04 L577.58,231.38 L583.41,230.70 L589.24,229.98 L595.07,229.23 L600.89,228.46 L606.71,227.65 L612.52,226.81 L618.33,225.94 L624.13,225.04 L629.93,224.11 L635.72,223.15 L641.51,222.15 L647.29,221.13 L653.07,220.08 L658.84,218.99 L664.61,217.88 L670.36,216.73 L676.12,215.55 L681.86,214.35 L687.60,213.11 L693.33,211.84 L699.06,210.54 L704.77,209.20 L710.48,207.84 L716.18,206.45 L721.88,205.02 L727.56,203.56 L733.24,202.08 L738.91,200.56 L744.57,199.01 L750.22,197.43 L755.86,195.82 L761.50,194.17 L767.12,192.50 L772.74,190.79 L778.34,189.05 L783.94,187.28 L789.52,185.48 L795.09,183.65 L800.66,181.79 L806.21,179.89 L811.75,177.97 L817.28,176.01 L822.80,174.02 L828.31,172.00 L833.81,169.94 L839.29,167.86 L844.76,165.74 L850.22,163.59 L855.67,161.41 L861.10,159.20 L866.52,156.96 L871.93,154.68 L877.32,152.37 L882.70,150.03 L888.07,147.66 L893.42,145.25 L898.76,142.81 L904.08,140.35 L909.39,137.84 L914.68,135.31 L919.96,132.74 L925.22,130.14 L930.46,127.51 L935.69,124.85 L940.91,122.15 L946.11,119.42 L951.29,116.66 L956.45,113.87"/>
<path d="M-19.79,42.27 L-15.08,44.94 L-10.35,47.58 L-5.60,50.19 L-0.84,52.76 L3.94,55.31 L8.74,57.83 L13.55,60.32 L18.38,62.77 L23.22,65.20 L28.08,67.60 L32.95,69.96 L37.84,72.29 L42.75,74.60 L47.66,76.87 L52.60,79.12 L57.54,81.33 L62.51,83.51 L67.48,85.66 L72.47,87.79 L77.47,89.88 L82.48,91.94 L87.51,93.97 L92.55,95.97 L97.60,97.94 L102.67,99.88 L107.74,101.79 L112.83,103.67 L117.93,105.52 L123.04,107.34 L128.16,109.13 L133.30,110.89 L138.44,112.62 L143.60,114.32 L148.76,115.99 L153.93,117.63 L159.12,119.24 L164.31,120.82 L169.52,122.37 L174.73,123.89 L179.95,125.38 L185.18,126.84 L190.42,128.28 L195.67,129.68 L200.93,131.05 L206.19,132.39 L211.47,133.70 L216.75,134.98 L222.04,136.23 L227.33,137.46 L232.63,138.65 L237.94,139.81 L243.26,140.95 L248.58,142.05 L253.91,143.13 L259.25,144.17 L264.59,145.19 L269.94,146.17 L275.30,147.13 L280.66,148.05 L286.02,148.95 L291.39,149.82 L296.77,150.65 L302.15,151.46 L307.53,152.24 L312.92,152.99 L318.31,153.71 L323.71,154.40 L329.11,155.06 L334.52,155.69 L339.93,156.30 L345.34,156.87 L350.76,157.41 L356.18,157.93 L361.60,158.41 L367.02,158.87 L372.45,159.29 L377.88,159.69 L383.31,160.05 L388.75,160.39 L394.18,160.70 L399.62,160.98 L405.06,161.23 L410.50,161.45 L415.94,161.64 L421.39,161.80 L426.83,161.93 L432.27,162.03 L437.72,162.11 L443.16,162.15 L448.61,162.17 L454.06,162.15 L459.50,162.11 L464.95,162.03 L470.39,161.93 L475.83,161.80 L481.28,161.64 L486.72,161.45 L492.16,161.23 L497.60,160.98 L503.04,160.70 L508.47,160.39 L513.91,160.05 L519.34,159.69 L524.77,159.29 L530.20,158.87 L535.62,158.41 L541.04,157.93 L546.46,157.41 L551.88,156.87 L557.29,156.30 L562.70,155.69 L568.11,155.06 L573.51,154.40 L578.91,153.71 L584.30,152.99 L589.69,152.24 L595.07,151.46 L600.45,150.65 L605.83,149.82 L611.20,148.95 L616.56,148.05 L621.92,147.13 L627.28,146.17 L632.63,145.19 L637.97,144.17 L643.31,143.13 L648.64,142.05 L653.96,140.95 L659.28,139.81 L664.59,138.65 L669.89,137.46 L675.18,136.23 L680.47,134.98 L685.75,133.70 L691.03,132.39 L696.29,131.05 L701.55,129.68 L706.80,128.28 L712.04,126.84 L717.27,125.38 L722.49,123.89 L727.70,122.37 L732.91,120.82 L738.10,119.24 L743.29,117.63 L748.46,115.99 L753.62,114.32 L758.78,112.62 L763.92,110.89 L769.06,109.13 L774.18,107.34 L779.29,105.52 L784.39,103.67 L789.48,101.79 L794.55,99.88 L799.62,97.94 L804.67,95.97 L809.71,93.97 L814.74,91.94 L819.75,89.88 L824.75,87.79 L829.74,85.66 L834.71,83.51 L839.68,81.33 L844.62,79.12 L849.56,76.87 L854.47,74.60 L859.38,72.29 L864.27,69.96 L869.14,67.60 L874.00,65.20 L878.84,62.77 L883.67,60.32 L888.48,57.83 L893.28,55.31 L898.06,52.76 L902.82,50.19 L907.57,47.58 L912.30,44.94 L917.01,42.27"/></g>
</g>
<rect x="231.5" y="72.5" width="365.0" height="462.0" fill="none" stroke="#000" stroke-width="1.2"/>
<rect x="627.5" y="72.5" width="23" height="462" fill="url(#cb)" stroke="#000" stroke-width="1.1"/>
<g stroke="#000" stroke-width="1.1"><path d="M651,72.50 H655.9"/><path d="M651,130.25 H655.9"/><path d="M651,188.00 H655.9"/><path d="M651,245.75 H655.9"/><path d="M651,303.50 H655.9"/><path d="M651,361.25 H655.9"/><path d="M651,419.00 H655.9"/><path d="M651,476.75 H655.9"/><path d="M651,534.50 H655.9"/></g>
<g  fill="#000"><text x="322.95" y="45.75" font-size="16.9" text-anchor="start" textLength="76.5" lengthAdjust="spacingAndGlyphs" >14:00:00</text><text x="403.59999999999997" y="45.75" font-size="16.9" text-anchor="start" textLength="95.55" lengthAdjust="spacingAndGlyphs" >2025/12/12</text><text x="239.29999999999998" y="63.75" font-size="16.9" text-anchor="start" textLength="38.7" lengthAdjust="spacingAndGlyphs" >T_fit</text><text x="282.09999999999997" y="63.75" font-size="16.9" text-anchor="start" textLength="14.6" lengthAdjust="spacingAndGlyphs" >=</text><text x="300.8" y="63.75" font-size="16.9" text-anchor="start" textLength="42.5" lengthAdjust="spacingAndGlyphs" >3600</text><text x="347.4" y="63.75" font-size="16.9" text-anchor="start" textLength="35.300000000000004" lengthAdjust="spacingAndGlyphs" >sec,</text><text x="386.8" y="63.75" font-size="16.9" text-anchor="start" textLength="94.8" lengthAdjust="spacingAndGlyphs" >Fit_order:3,</text><text x="485.7" y="63.75" font-size="16.9" text-anchor="start" textLength="80.9" lengthAdjust="spacingAndGlyphs" >EL_mask:</text><text x="570.7" y="63.75" font-size="16.9" text-anchor="start" textLength="20.2" lengthAdjust="spacingAndGlyphs" >30</text><text x="231.8" y="550.75" font-size="13.89" text-anchor="middle" textLength="43" lengthAdjust="spacingAndGlyphs" >120°E</text><text x="305.1" y="550.75" font-size="13.89" text-anchor="middle" textLength="43" lengthAdjust="spacingAndGlyphs" >125°E</text><text x="377.6" y="550.75" font-size="13.89" text-anchor="middle" textLength="43" lengthAdjust="spacingAndGlyphs" >130°E</text><text x="448.6" y="550.75" font-size="13.89" text-anchor="middle" textLength="43" lengthAdjust="spacingAndGlyphs" >135°E</text><text x="520.5" y="550.75" font-size="13.89" text-anchor="middle" textLength="43" lengthAdjust="spacingAndGlyphs" >140°E</text><text x="592.5" y="550.75" font-size="13.89" text-anchor="middle" textLength="43" lengthAdjust="spacingAndGlyphs" >145°E</text><text x="228.3" y="138.9" font-size="13.89" text-anchor="end" textLength="35" lengthAdjust="spacingAndGlyphs" >45°N</text><text x="228.3" y="219.9" font-size="13.89" text-anchor="end" textLength="35" lengthAdjust="spacingAndGlyphs" >40°N</text><text x="228.3" y="299.9" font-size="13.89" text-anchor="end" textLength="35" lengthAdjust="spacingAndGlyphs" >35°N</text><text x="228.3" y="379.4" font-size="13.89" text-anchor="end" textLength="35" lengthAdjust="spacingAndGlyphs" >30°N</text><text x="228.3" y="458.9" font-size="13.89" text-anchor="end" textLength="35" lengthAdjust="spacingAndGlyphs" >25°N</text><text x="661.1" y="78.0" font-size="13.89" text-anchor="start" textLength="28.9" lengthAdjust="spacingAndGlyphs" >1.00</text><text x="661.1" y="135.75" font-size="13.89" text-anchor="start" textLength="30.9" lengthAdjust="spacingAndGlyphs" >0.75</text><text x="661.1" y="193.5" font-size="13.89" text-anchor="start" textLength="30.9" lengthAdjust="spacingAndGlyphs" >0.50</text><text x="661.1" y="251.25" font-size="13.89" text-anchor="start" textLength="30.9" lengthAdjust="spacingAndGlyphs" >0.25</text><text x="661.1" y="309.0" font-size="13.89" text-anchor="start" textLength="30.9" lengthAdjust="spacingAndGlyphs" >0.00</text><text x="661.1" y="366.75" font-size="13.89" text-anchor="start" textLength="41.9" lengthAdjust="spacingAndGlyphs" >−0.25</text><text x="661.1" y="424.5" font-size="13.89" text-anchor="start" textLength="41.9" lengthAdjust="spacingAndGlyphs" >−0.50</text><text x="661.1" y="482.25" font-size="13.89" text-anchor="start" textLength="41.9" lengthAdjust="spacingAndGlyphs" >−0.75</text><text x="661.1" y="540.0" font-size="13.89" text-anchor="start" textLength="41.9" lengthAdjust="spacingAndGlyphs" >−1.00</text><text transform="translate(718.9,303.5) rotate(-90)" font-size="13.89" text-anchor="middle" textLength="86.8" lengthAdjust="spacingAndGlyphs">dTEC (TECU)</text></g>
</svg></body></html>
